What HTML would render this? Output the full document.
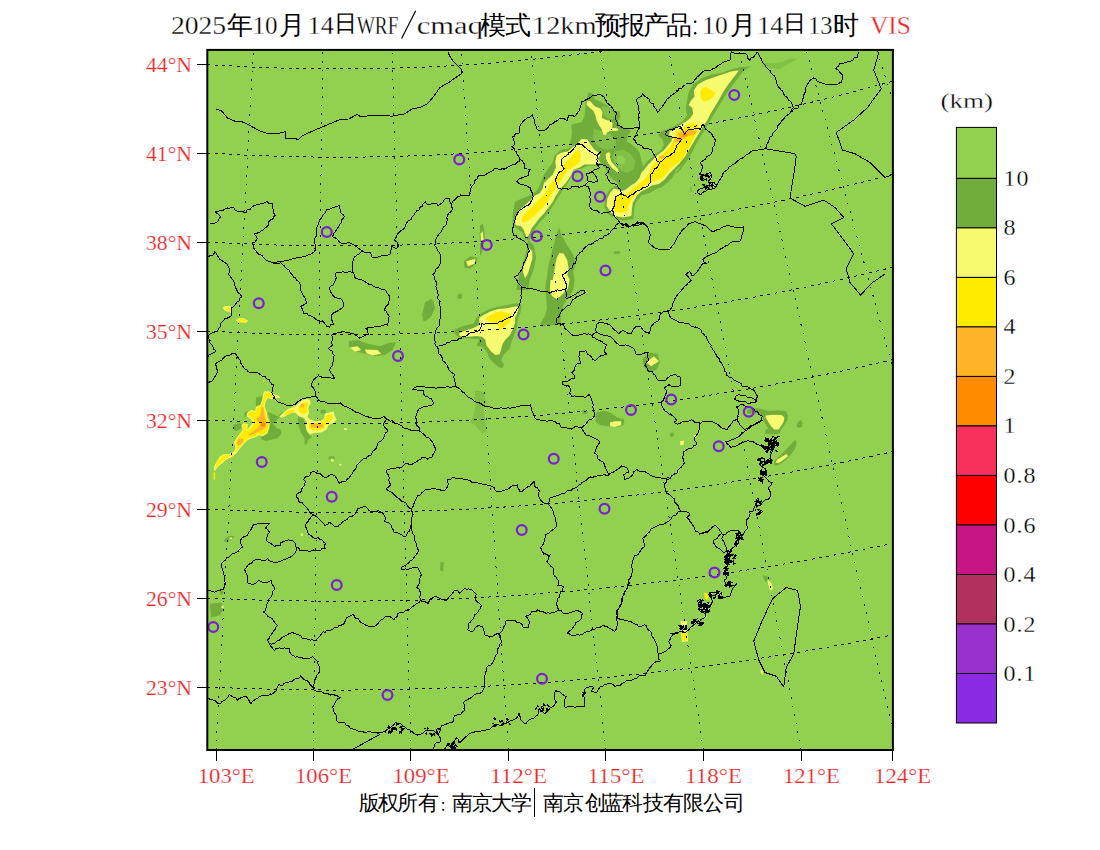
<!DOCTYPE html><html><head><meta charset="utf-8"><title>VIS</title><style>html,body{margin:0;padding:0;background:#fff}svg{display:block}text{font-family:"Liberation Serif",serif}</style></head><body>
<svg width="1100" height="850" viewBox="0 0 1100 850">
<rect width="1100" height="850" fill="#fff"/>
<defs><clipPath id="fc"><rect x="207.3" y="49.9" width="685.5999999999999" height="700.1"/></clipPath></defs>
<rect x="207.3" y="49.9" width="685.5999999999999" height="700.1" fill="#92D050"/>
<g clip-path="url(#fc)">
<path d="M588.7,92.4 593.1,93.8 594.5,98.9 600.4,101.8 606.2,104.7 610.5,108.4 614.9,111.3 619.3,111.3 620.7,116.4 617.8,120.7 620.7,126.5 625.1,128 630.9,130.9 628,135.3 626.5,141.1 630.9,144 636.7,148.4 639.6,152.7 641.1,158.5 642.5,164.4 645.5,170.2 646.9,176 641.1,180.4 636.7,184.7 630.9,187.6 625.1,189.1 620.7,188.4 616.4,181.8 612,178.9 607.6,173.1 604.7,167.3 601.8,164.4 600.4,161.5 600.4,155.6 594.5,149.8 590.2,144 587.3,139.6 581.5,138.9 577.1,144 572.7,145.5 569.8,144 571.3,138.2 572,132.4 571.3,125.1 575.6,123.6 581.5,122.2 584.4,116.4 585.1,109.1 585.8,101.8 587.3,96Z" fill="#70AD3A"/>
<path d="M593.8,128.7 601.8,130.9 610.5,133.8 614.9,138.2 616.4,144 613.5,148.4 607.6,149.8 601.8,148.4 596,144 593.1,138.2Z" fill="#82C046"/>
<path d="M601.8,106.2 607.6,106.9 613.5,111.3 616.4,116.4 613.5,119.3 607.6,118.5 604,114.9 602.5,110.5Z" fill="#82C046"/>
<path d="M614.9,151.3 623.6,149.8 630.9,154.2 635.3,161.5 633.8,168.7 628,173.1 622.2,171.6 617.8,167.3 613.5,161.5 612,155.6Z" fill="#82C046"/>
<path d="M617.1,156.4 622.2,155.6 625.1,159.3 624.4,163.6 620,164.4 617.1,161.5Z" fill="#92D050"/>
<path d="M587.3,100.4 590.9,101.8 594.5,106.2 600.4,108.4 602.5,112 601.8,117.8 606.2,120 610.5,120.7 612.7,123.6 612,128 614.9,128 617.8,128.7 618.5,130.2 614.9,130.9 610.5,130.9 606.9,132.4 605.5,135.3 603.3,134.5 601.8,129.5 598.9,125.1 596.7,120.7 595.3,114.9 593.1,110.5 589.5,107.6 586.5,104.7Z" fill="#F5FA6E"/>
<path d="M605.5,154.2 608.4,152 610.5,153.5 609.8,157.1 611.3,161.5 614.2,165.1 617.8,168.7 619.3,172.4 616.4,171.6 612,168 608.4,163.6 606.2,159.3Z" fill="#F5FA6E"/>
<path d="M581.5,137.5 587.3,138.2 591.6,144 596,149.8 601.1,152.7 601.8,157.1 600.4,163.6 596,165.8 587.3,165.8 581.5,168.7 573.1,170 570.2,178.7 565.8,186 561.5,191.8 557.1,199.1 552.7,206.4 548.4,212.2 544,218 539.6,222.4 535.3,228.2 532.4,234 529.5,239.8 525.1,239.8 522.2,232.5 516.4,228.2 512.7,223.8 512.7,215.1 514.9,202 520.7,199.1 528,196.2 533.8,193.3 538.2,188.9 541.1,181.6 544,174.4 552.4,162.9 554.5,155.6 561.1,149.8 568.4,148.4 572.7,145.5 577.1,142.5Z" fill="#70AD3A"/>
<path d="M581.5,138.9 587.3,139.6 590.2,144 594.5,149.8 598.9,152.7 600.4,155.6 597.5,158.5 600.4,162.2 596,164.4 590.2,164.4 584.4,164.4 580,167.3 573.1,170 571.6,174.4 568.7,178.7 565.8,183.1 561.5,187.5 558.5,191.8 555.6,196.2 552.7,202 548.4,207.8 544,213.6 539.6,218 535.3,223.8 531.6,228.2 529.5,234 526.5,238.4 525.8,235.5 523.6,229.6 520.7,226 515.6,225.3 514.9,220.9 517.1,215.1 520.7,209.3 525.1,204.9 530.2,200.5 533.8,196.2 539.6,193.3 542.5,188.9 544,183.1 548.4,178.7 552.7,174.4 556,167.3 555.3,161.5 556.7,155.6 561.1,152.7 568.4,151.3 572.7,146.9 577.1,144Z" fill="#F5FA6E"/>
<path d="M579.3,149.8 580.7,155.6 580,161.5 575.6,165.8 567.3,170 565.8,172.9 562.9,177.3 560,181.6 557.1,186 554.2,190.4 551.3,194.7 548.4,200.5 544,206.4 539.6,210.7 535.3,215.1 530.9,218.7 526.5,221.6 522.2,222.4 521.5,219.5 523.6,215.1 528,210.7 532.4,206.4 536.7,202 541.1,197.6 545.5,193.3 548.4,187.5 551.3,183.1 554.2,178.7 558.5,174.4 562.5,167.3 565.5,162.9 569.8,158.5 572.7,154.2 575.6,151.3Z" fill="#FFEB00"/>
<path d="M528,239.8 533.8,245.6 536,257.3 533.8,268.9 529.5,280.5 528,290 516.4,290 517.8,280.5 520.7,270.4 523.6,261.6 526.5,251.5Z" fill="#70AD3A"/>
<path d="M529.5,248.5 532.4,251.5 532.4,258.7 530.2,266 528,273.3 525.1,278.4 522.9,271.8 523.6,266 526.5,260.2 528,254.4Z" fill="#F5FA6E"/>
<path d="M559.3,227.5 561.5,235.5 567.3,245.6 573.1,254.4 576,263.1 573.1,271.8 574.5,280.5 573.1,290 545.5,290 546.9,277.6 548.4,266 551.3,254.4 554.2,242.7 557.1,232.5Z" fill="#70AD3A"/>
<path d="M559.3,252.9 563.6,253.6 567.3,260.2 568.7,268.9 567.3,274.7 570.2,280.5 568.7,290 549.8,290 552.7,280.5 554.2,271.8 555.6,263.1 557.1,257.3Z" fill="#F5FA6E"/>
<path d="M480,225.3 482.9,223.8 484.4,234 483.6,245.6 481.5,254.4 480,255.8Z" fill="#70AD3A"/>
<path d="M480,232.5 482.2,231.8 482.9,238.4 481.5,242.7 480,242.7Z" fill="#F5FA6E"/>
<path d="M751.3,66.5 739.6,67.3 730.9,69.5 720.7,73.1 712,74.5 701.8,78.2 693.1,84.7 688.7,92 687.3,99.3 685.8,108 687.3,115.3 682.9,121.1 675.6,125.5 668.4,129.1 661.1,131.3 658.2,135.6 662.5,139.3 664,144.4 661.1,150.2 655.3,154.5 648,160.4 642.2,167.6 639.3,173.5 636.4,180 635.6,182.5 629.8,186.2 625.5,188.4 621.1,188.4 615.3,185.5 609.5,189.8 605.1,197.1 604.4,207.3 608.7,214.5 615.3,218.9 624,220.4 633.5,218.9 634.2,208.7 635.6,202.9 641.5,195.6 650.2,192.7 654.5,189.8 661.8,186.9 667.6,182.5 672,178.2 676.4,169.5 682.2,165.1 669.8,180 672.7,176.4 675.6,173.5 678.5,172 682.9,166.2 687.3,160.4 691.6,153.1 696,144.4 700.4,137.1 704.7,129.8 709.1,122.5 713.5,115.3 717.8,108 722.2,100.7 726.5,93.5 730.9,87.6 735.3,81.8 739.6,76 744,70.2Z" fill="#70AD3A"/>
<path d="M738.9,70.2 730.9,71.6 722.2,74.5 713.5,77.5 704.7,80.4 697.5,84.7 693.8,90.5 694.5,96.4 690.9,100.7 688.7,105.1 692.4,108 693.1,113.8 690.2,118.2 685.8,121.8 681.5,124 675.6,128.4 669.8,131.3 669.1,135.6 672.7,137.1 671.3,141.5 667.6,145.8 664,150.2 658.2,154.5 653.8,158.9 648,164.7 643.6,170.5 641.5,172.4 639.3,178.2 635.6,182.5 629.8,186.2 625.5,189.8 621.1,191.3 618.2,189.8 613.8,188.4 610.2,192.7 607.3,198.5 606.5,205.8 610.2,211.6 615.3,216 622.5,217.5 631.3,216 632,208.7 632.7,202.9 637.1,195.6 641.5,191.3 647.3,188.4 651.6,185.5 658.9,184 664.7,179.6 669.1,173.8 674.9,168 679.3,163.6 685.1,156.4 689.5,149.1 693.8,141.8 698.2,134.5 697.5,135.6 701.8,128.4 706.9,121.1 710.5,113.8 714.9,106.5 719.3,99.3 723.6,91.3 728,84.7 732.4,78.9 736,74.5Z" fill="#F5FA6E"/>
<path d="M701.8,88.4 706.2,86.9 710.5,89.8 715.6,92.7 713.5,96.4 709.8,99.3 706.2,101.5 702.5,100.7 700.4,96.4 700.1,92Z" fill="#FFEB00"/>
<path d="M693.1,122.5 697.5,124 698.9,127.6 696,134.2 693.1,138.5 690.2,145.8 685.8,153.1 681.5,160.4 670.5,168 666.2,173.8 661.8,178.2 654.5,181.1 647.3,184 641.5,188.4 635.6,194.2 631.3,200 628.4,205.8 626.9,210.9 621.1,213.1 615.3,211.6 612.4,207.3 613.1,201.5 616,195.6 619.6,193.5 624,194.9 628.4,192.7 632.7,188.4 638.5,184 644.4,179.6 648.7,173.8 651.6,166.5 656,160.7 660.4,156.4 664.7,152 669.1,147.6 662.5,153.1 668.4,148.7 671.3,144.4 674.2,139.3 675.6,132.7 681.5,128.4 687.3,124Z" fill="#FFEB00"/>
<path d="M678.5,132.7 682.9,131.3 687.3,129.8 693.1,130.5 697.5,131.3 694.5,134.2 690.2,135.6 685.8,137.1 682.9,139.3 679.3,141.5 674.9,142.2 674.2,139.3 678.5,137.1Z" fill="#FFB428"/>
<path d="M658.9,156 664,155.7 664,158.2 658.9,158.2Z" fill="#FFB428"/>
<path d="M682.9,133.5 687.3,133.2 687.3,135.9 682.9,136.4Z" fill="#FF8C00"/>
<path d="M454.5,329.5 461.8,326.5 473.5,323.6 476.4,317.8 482.2,312.7 489.5,309.1 496.7,306.9 505.5,305.5 515.6,303.3 521.5,304.7 520.7,312 517.8,319.3 517.1,326.5 514.2,335.3 511.3,342.5 509.8,348.4 504,354.2 501.1,360 504,364.4 502.5,368 498.9,367.3 493.8,362.9 489.5,358.5 486.5,351.3 482.2,346.9 476.4,345.5 479.3,339.6 469.1,338.2 460.4,338.2 454.5,333.8Z" fill="#70AD3A"/>
<path d="M459.6,333.1 466.2,330.2 473.5,328 479.3,325.1 479.3,317.8 483.6,314.9 490.9,311.3 498.2,309.1 505.5,308.4 512.7,306.9 517.1,306.2 518.5,309.1 517.1,313.5 514.9,317.8 514.9,323.6 512.7,329.5 509.8,335.3 505.5,339.6 502.5,344 501.1,349.8 499.6,354.2 495.3,354.9 490.9,351.3 486.5,345.5 485.1,339.6 482.2,336.7 476.4,336 469.1,336.7 461.8,336.7 458.9,335.3Z" fill="#F5FA6E"/>
<path d="M485.1,319.3 489.5,315.6 495.3,312.7 501.1,311.3 506.9,312.7 511.3,314.9 509.8,319.3 509.8,322.2 506.2,325.1 502.5,328.7 498.9,329.5 498.2,325.1 495.3,322.9 489.5,321.5Z" fill="#FFEB00"/>
<path d="M546.2,280 573.8,280 572.4,291.6 568,297.5 563.6,304.7 560.7,313.5 560.7,325.1 550.5,325.1 541.8,326.5 540.4,323.6 544.7,316.4 546.9,309.1 546.2,297.5 545.5,287.3Z" fill="#70AD3A"/>
<path d="M550.5,280 569.5,280 568,288.7 565.1,291.6 560.7,296 556.4,298.9 552,296 549.8,290.2Z" fill="#F5FA6E"/>
<path d="M458.9,293.8 461.8,293.8 461.8,298.2 458.9,298.2Z" fill="#70AD3A"/>
<path d="M475.6,390.5 482.2,392 485.1,400 474.9,400Z" fill="#70AD3A"/>
<path d="M463.8,261.2 470,256.2 477.5,257.5 476.2,263.8 470,268.8 464.5,267.5Z" fill="#70AD3A"/>
<path d="M466.2,261.2 475.5,258.8 474.5,263.8 468,266.2Z" fill="#F5FA6E"/>
<path d="M479.5,232.5 483,225 484.5,232.5 484.5,242.5 480,242.5Z" fill="#70AD3A"/>
<path d="M480.5,233.8 483,231.2 483.5,240 481,240.5Z" fill="#F5FA6E"/>
<path d="M425,302.5 431.2,298.8 435,307.5 431.2,316.2 423.8,321.2 422,315Z" fill="#70AD3A"/>
<path d="M458.8,294.5 462,294.5 462,298 458.8,298Z" fill="#70AD3A"/>
<path d="M642.5,358.8 650,352.5 657.5,353.8 660,362.5 656.2,370 648.8,372.5 643.8,366.2Z" fill="#70AD3A"/>
<path d="M646.2,362.5 653.8,356.2 658.8,361.2 651.2,366.2Z" fill="#F5FA6E"/>
<path d="M613.8,251.2 620,251.2 620,253.8 613.8,253.8Z" fill="#70AD3A"/>
<path d="M267.5,412 273.4,414.2 277.7,416.4 280.6,413.5 283.5,412 277.7,419.3 273.4,423.6 276.3,428 280.6,429.5 281.4,433.8 277.7,438.2 271.9,439.6 266.1,441.1 261.7,439.6 260.3,437.5 267.5,433.8 269.7,428 270.5,422.2 269,416.4Z" fill="#70AD3A"/>
<path d="M255.9,397.5 262.5,396 261.7,404.7 255.9,406.2Z" fill="#70AD3A"/>
<path d="M244.3,412.7 247.9,411.3 248.6,416.4 244.3,417.1Z" fill="#70AD3A"/>
<path d="M233.4,424.4 239.9,422.9 242.5,425.1 240.6,428.7 235.8,431.2 233.4,429.2Z" fill="#70AD3A"/>
<path d="M264.6,390.9 269,391.6 272.6,393.8 277.7,395.3 280.6,397.5 274.8,398.2 270.5,398.9 268.3,397.5 265.4,401.8 264.6,406.9 266.8,412 267.5,417.8 269.7,422.2 269,428 267.5,433.1 263.2,436 258.8,435.3 254.5,437.5 248.6,439.6 244.3,443.3 239.9,448.4 237,452.7 232.6,456.4 226.8,459.3 222.5,462.9 218.1,466.5 214.5,471.6 213.7,467.3 215.9,462.9 219.5,457.1 223.2,454.2 228.3,454.2 233.4,452 235.5,448.4 234.1,442.5 236.3,438.2 239.9,433.8 242.8,429.5 241.4,425.1 244.3,422.9 247.9,424.4 247.2,429.5 250.1,426.5 253,422.2 250.1,418.5 246.5,416.4 247.2,412.7 251.5,409.8 255.2,411.3 255.9,406.9 260.3,404.7 262.5,398.9 263.2,393.8Z" fill="#F5FA6E"/>
<path d="M265.4,391.9 269,392.8 271.9,394.5 276.3,396.3 270.5,397.7 267.8,396.7 264.3,401.8 263.5,406.9 265.8,412.3 266.7,418.1 268.7,422.5 268,427.7 266.7,432.4 262.9,435 258.5,434.1 254.2,436.4 248.3,438.5 243.5,442.3 239.3,447.2 236.4,451.6 232.3,455.3 226.8,458.3 222.2,461.5 218.4,465.1 215.2,469 215.5,465.1 217.4,461.5 220.7,457.8 223.9,455.3 228.6,455.3 234.1,453 236.7,448.7 235.3,442.8 237.3,438.8 240.8,434.5 243.8,429.7 242.5,425.8 244.6,424.1 246.9,425.4 246.3,430.9 250.8,427.7 254.2,422.2 251,417.5 247.8,415.8 248.2,413.5 251.5,411 255.9,412.3 256.9,407.6 261.1,405.5 263.2,399.6Z" fill="#FFEB00"/>
<path d="M261.4,406.9 263.5,407.6 263.9,413.5 265.4,418.1 266.8,422.9 265.5,427.4 262.9,429.5 258.8,431.5 254.5,433.5 249.4,435.9 248.3,434.4 253.7,431.2 258.1,427.4 260.6,423.6 257.1,421 256.2,418.1 259.7,416.4 260.9,410.8Z" fill="#FFB428"/>
<path d="M237.7,439.6 242.8,438.2 243.5,441.8 240.6,444.7 237,445.5Z" fill="#FFB428"/>
<path d="M261,422.2 265.4,422.9 264.6,426.5 261,426.5Z" fill="#FF8C00"/>
<path d="M213.7,471.9 215.2,473.1 214.9,480.4 213.4,478.9Z" fill="#FFEB00"/>
<path d="M298.1,416.4 303.9,419.3 305.4,425.1 306.8,430.9 309.7,435.3 312.6,436.7 308.3,439.6 306.8,444 304.6,444.7 304.6,438.2 301,432.4 298.8,426.5 298.1,420.7Z" fill="#70AD3A"/>
<path d="M320.6,409.8 325.7,409.8 325.7,413.5 320.6,413.5Z" fill="#70AD3A"/>
<path d="M279.2,416.4 283.5,412.7 287.9,409.1 293.7,406.9 298.1,404 301,401.1 305.4,398.9 309.7,399.6 310.5,403.3 308.3,406.9 309,412.7 307.5,416.4 309.7,419.3 315.5,421.5 321.4,420.7 324.3,418.5 325,413.5 328.6,412.7 333.7,411.3 334.5,415.6 336.6,419.3 334.5,422.2 328.6,425.1 326.5,429.5 321.4,432.4 314.1,433.1 309.7,434.5 306.8,430.9 305.4,425.1 306.8,422.2 303.9,417.8 299.5,416.4 295.2,412.7 290.8,412.7 286.5,415.6 282.1,417.8Z" fill="#F5FA6E"/>
<path d="M298.8,406.9 302.5,403.3 306.8,401.8 309,404 306.8,407.6 307.5,412.7 303.9,414.2 300.3,412.7 298.1,409.8Z" fill="#FFEB00"/>
<path d="M309,422.9 315.5,422.9 321.4,422.2 325,419.3 326.5,414.9 331.5,414.2 333,417.8 330.1,422.2 325.7,425.1 324.3,428.7 318.5,430.2 312.6,430.2 309,428Z" fill="#FFEB00"/>
<path d="M286.5,411.3 292.3,409.1 295.2,411.3 289.4,414.2 284.3,415.6Z" fill="#FFEB00"/>
<path d="M310.5,423.6 317,423.6 323.5,424.4 323.5,427.3 317,428 311.2,427.3Z" fill="#FFB428"/>
<path d="M300.3,404 303.9,404 303.9,407.6 300.3,407.6Z" fill="#FFB428"/>
<path d="M328.6,456.4 334.5,456.4 334.7,459.7 328.6,459.7Z" fill="#70AD3A"/>
<path d="M330.8,458.5 333.7,459.3 333.7,461.5 330.8,461.5Z" fill="#F5FA6E"/>
<path d="M339.5,463.6 341.7,464.4 341,465.8 339.1,465.2Z" fill="#F5FA6E"/>
<path d="M343.9,428 346.8,428.3 346.8,430.2 344.2,429.9Z" fill="#F5FA6E"/>
<path d="M263.2,380 264.3,380 264.3,381.7 263.2,381.7Z" fill="#FFEB00"/>
<path d="M755.3,408.2 761.1,408.9 768.4,411.1 777.1,410.4 785.8,411.1 788,415.5 787.3,420.5 784.4,424.9 781.5,429.3 779.3,433.6 772.7,434.4 764.7,433.6 765.5,430 768.4,428.5 765.5,424.2 763.3,419.1 759.6,414 754.5,413.3 748,414 746.5,410.4 750.9,408.2Z" fill="#70AD3A"/>
<path d="M765.5,415.5 772.7,414.7 781.5,415 784.4,417.6 783.6,422 780.7,426.4 778.5,429.6 774.2,429.6 771.3,426.4 768.4,422 766.2,418.4Z" fill="#F5FA6E"/>
<path d="M800.4,419.8 802.5,422.7 801.8,427.1 798.2,428.1 796,425.6 798.2,422Z" fill="#70AD3A"/>
<path d="M796,440.2 796.7,443.8 794.5,449.6 790.2,455.5 784.4,461.3 778.5,464.9 774.2,465.6 774.2,461.3 778.5,456.9 784.4,451.1 790.2,445.3 793.8,440.9Z" fill="#70AD3A"/>
<path d="M786.5,454 788,456.2 784.4,459.1 779.3,462.7 775.6,462.7 777.1,459.8 781.5,456.9Z" fill="#F5FA6E"/>
<path d="M680,441.2 683.8,440.5 683.8,444.5 680.5,445.5Z" fill="#F5FA6E"/>
<path d="M693.8,435 696.2,435 696.2,437.5 693.8,437.5Z" fill="#F5FA6E"/>
<path d="M670,433 673.8,432.5 673.8,436.2 670,436.8Z" fill="#70AD3A"/>
<path d="M620,418.8 623.8,418.8 624.5,422.5 621.2,424.2 620,423.8Z" fill="#70AD3A"/>
<path d="M476.2,391.2 483.8,392.5 486.2,402.5 482.5,407.5 485,417.5 486.2,431.2 482.5,433.8 475,425 470,422.5 473.8,415 475.5,405 474.5,397.5Z" fill="#82C046"/>
<path d="M596.2,412.5 603.8,410.8 610,412.5 617.5,417.5 623.8,420 623.8,425 617.5,427 607.5,426.2 600,425 595.5,421.2Z" fill="#70AD3A"/>
<path d="M610,422.5 615,421.2 621.2,421.2 621.2,425 615,427 610,426.2Z" fill="#F5FA6E"/>
<path d="M582.5,410 587.5,410 587.5,413.8 582.5,413.8Z" fill="#70AD3A"/>
<path d="M440.5,562.5 443.8,562 443.2,571.2 440,570.5Z" fill="#70AD3A"/>
<path d="M222.5,307.6 225.9,305.9 230.5,306.2 232.6,307.8 231.2,313 228.8,311.6 225.9,310.9 223.8,309.5Z" fill="#F5FA6E"/>
<path d="M224.5,308.2 228,307.4 231.8,308.2 231,312.3 228.8,310.8 226,310Z" fill="#FFEB00"/>
<path d="M235.8,320.2 239,318.3 243.6,318.3 248,320.5 246.5,322.8 241.9,322.4 238.2,322Z" fill="#F5FA6E"/>
<path d="M237,320.3 239.3,319 243.3,319 246.8,320.6 245.8,322 241.9,321.8 238.5,321.4Z" fill="#FFEB00"/>
<path d="M348.8,341.2 357.5,340 367.5,343.8 380,346.2 390,342.5 396.2,342.5 392.5,350 385,355 375,356.2 365,353.8 355,351.2 348.8,346.2Z" fill="#70AD3A"/>
<path d="M350,347.5 357.5,346.2 361.2,350 355,351.8Z" fill="#F5FA6E"/>
<path d="M365,349.5 377.5,350 381.2,353.8 372.5,355.5 366.2,353Z" fill="#F5FA6E"/>
<path d="M422.5,320 426.2,312.5 430,302.5 433.8,300 433.8,310 430,317.5 425,321.2Z" fill="#70AD3A"/>
<path d="M457.5,295 461.2,293.8 461.2,298.8 457.5,298.8Z" fill="#70AD3A"/>
<path d="M210,603.8 221.2,602.5 223.8,608.8 220,615 211.2,617.5Z" fill="#70AD3A"/>
<path d="M221.5,605.8 223.5,605.8 223.5,608.2 221.5,608.2Z" fill="#F5FA6E"/>
<path d="M219.5,590 223.8,591.2 222.5,595 219.5,593.8Z" fill="#70AD3A"/>
<path d="M680,621.2 687.5,621.2 686.2,626.2 681.2,625Z" fill="#F5FA6E"/>
<path d="M680.8,630 687,630 688.2,641.2 681.8,642Z" fill="#F5FA6E"/>
<path d="M681.2,631.2 686.2,631.2 687.5,640 682.5,641.2Z" fill="#FFEB00"/>
<path d="M703.8,592.5 707.5,593.8 708.8,600 705,598.8Z" fill="#FFEB00"/>
<path d="M701.2,606.2 707.5,607.5 706.2,610.5Z" fill="#FFEB00"/>
<path d="M762.5,575 767.5,576.2 768.8,582.5 765,581.2Z" fill="#70AD3A"/>
<path d="M767,579.5 771.2,582.5 773,588.8 770,590.5Z" fill="#F5FA6E"/>
<path d="M760.5,669.5 763,671.2 762.5,675 760.8,672.5Z" fill="#F5FA6E"/>
<path d="M761.2,66.2 770,68 780,69.2 785,65.5 792.5,61.8 797.5,58.8 790,58.2 782.5,62 772.5,63.5 763.8,63Z" fill="#82C046"/>
<path d="M223.5,541 227,537 232,535.5 234.5,536.5 231,540 226,542.5Z" fill="#70AD3A"/>
<path d="M229.5,537.5 232,537.5 232,539.2 229.5,539.2Z" fill="#F5FA6E"/>
<path d="M300.8,533.5 302.8,533.5 302.8,535.8 300.8,535.8Z" fill="#F5FA6E"/>
<path d="M697.5,178.2 703.5,178.2 703.5,181 697.5,181Z" fill="#70AD3A"/>
<path d="M699,179 702.5,179 702.5,180.2 699,180.2Z" fill="#F5FA6E"/>
<path d="M690.3,187 691.6,187 691.6,192.3 690.3,192.3Z" fill="#70AD3A"/>
<g fill="none" stroke="#000" stroke-width="1" stroke-dasharray="1.7 7" shape-rendering="crispEdges">
<path stroke-dasharray="3 4.4" d="M200,64.0 A1645.1,1389.9 0 0 0 900,-14.4"/>
<path stroke-dasharray="3 4.4" d="M200,152.5 A1749.5,1478.1 0 0 0 900,79.1"/>
<path stroke-dasharray="3 4.4" d="M200,241.5 A1854.6,1566.8 0 0 0 900,172.5"/>
<path stroke-dasharray="3 4.4" d="M200,330.6 A1959.7,1655.6 0 0 0 900,265.4"/>
<path stroke-dasharray="3 4.4" d="M200,419.6 A2064.8,1744.4 0 0 0 900,357.9"/>
<path stroke-dasharray="3 4.4" d="M200,508.6 A2169.9,1833.3 0 0 0 900,450.0"/>
<path stroke-dasharray="3 4.4" d="M200,597.6 A2275.1,1922.1 0 0 0 900,541.8"/>
<path stroke-dasharray="3 4.4" d="M200,686.6 A2380.3,2011.0 0 0 0 900,633.4"/>
<path d="M216,750.0 L253.3,49.9"/>
<path d="M313.3,750.0 L322.7,49.9"/>
<path d="M410.8,750.0 L392.0,49.9"/>
<path d="M508.3,750.0 L461.3,49.9"/>
<path d="M605.8,750.0 L530.7,49.9"/>
<path d="M703.3,750.0 L600.2,49.9"/>
<path d="M801.2,750.0 L668.7,49.9"/>
<path d="M897.1,750.0 L739,49.9"/>
<path d="M996.6,750.0 L806.2,49.9"/>
<path d="M1094,750.0 L877,49.9"/>
</g>
<g fill="none" stroke="#000" stroke-width="1" stroke-linejoin="round" shape-rendering="crispEdges">
<path d="M216.25,109.5 221.25,110.5 227.5,118 235,121.25 242.5,122 250,125.5 258.75,130.5 266.25,133 280,133 285.5,131.75 285.5,138.25 296.25,138.75 298,140.25 302.5,135.5 315,130 330,123.75 340,119.5 348.75,119 357,114.5 360,116.25 375,115.75 385,115.25 391.25,116.25 405,113.75 412.5,108.75 420,107.5 427.5,103.75 433.75,96.25 440,87.5 448.75,82.5 457.5,76.25 461.25,73.75 462,70 455,63 451.25,58.75 448,52.5"/>
<path d="M209.5,223 212.3,223.2 214.5,223.1 216.5,222.3 218.3,220.7 219.6,217.9 220.8,217.5 219.6,215.7 218.4,214.6 216,212.6 215.3,212 217.1,211.5 220.6,210.4 222.6,210.7 224.9,209.1 227.6,208 229.5,208.1 231.1,207.7 233.5,207.6 235.3,210.1 236.8,211 239.9,211.8 242.9,211.5 244.4,213 246.2,212.2 247.1,209.7 250,209.4 252,206.8 254.3,205.5 256.7,204.7 259.5,204.2 260.9,203 263.8,203.1 266.1,202.1 267.4,201.7 269.6,203.9 272.2,203 272.5,207.2 273.4,210.5 273.6,212.8 275.4,215.4 274,216.3 272.8,219.1 270.7,219.7 268.3,222.1 268.5,224.8 267,226.8 265.3,227.7 263.4,229.6 261.3,230.8 259.6,232.2 256.8,233.3 254.3,234.1 256.2,235.9 257.1,238.5 256,240.6 254.3,242.6 252,243 254,246.7 253.7,248 255.5,250.5 256.6,251.9 257.9,253.8 260.7,254.8 262.3,255.9 263.3,257.5 265.3,259.6 267.7,260.8 270.1,261.7 272.1,262.6 274.9,262.4 276.7,262.1 279.7,261.5 283,261.7 285,260.4 286.9,260.4 289.9,259.9 292.1,258.9 294.4,258.4 297.6,257.7 298.7,257.7 300.7,257.6 303.3,256 305.6,256.2 308.5,254.8 310.7,254.3 313.7,252.3 315,250"/>
<path d="M315,251 315,248.6 315.4,246.5 314.9,243.6 314.7,242.2 314.9,239.3 315.1,237.5 316.5,235.9 316.9,232.5 316.1,231.1 316.3,228.3 317.9,225.7 318.3,223.6 318.8,222.9 319.8,219.6 321.9,218.7 322.1,216.1 323.2,214.7 324.9,212.9 326.7,209.9 327.8,210 331.3,208.2 333.4,207.4 334.7,207.2 336.9,206.4 339.9,205.1 339.7,208 340.8,210.6 340.5,212.9 343.7,215 344.2,216.6 343.2,218.5 341.7,219.6 341.6,222.4 339.2,225.2 339,225.8 337.5,228.6 336.2,230.4 334.2,232.6 333.9,233.9 332.3,236.9 335.1,237.5 336.8,239.1 338.2,240.2 339.8,242.5 341.7,243.5 345.4,243.8 347.5,242.9 349.8,243 352.5,244.3 354.6,245.5 357.2,247.3 358.6,248.2 360,249.3 362.5,251"/>
<path d="M362.5,251.2 364.9,252.5 367.7,252.4 370,252 371.8,255.3 372,257.3 375.3,257.1 378,257.1 379.8,256.3 382.9,255.3 384.2,255 388.1,255 389.7,254.4 390,253.6 390.5,251.4 392,248 391.7,246.9 391.1,245.8 393,247 396.5,248.5 398.7,245.4 396.8,242 394.4,240 396.2,237.1 396.1,236.5 397.6,233.8 399.8,231.5 401.6,230.2 404.1,228.7 404.8,227.4 405.4,225.1 406.4,223.3 408.3,220.4 411.2,219.6 411.9,217.3 414.2,214.7 415.4,212.7 416.8,210.5 419.4,209.9 420,207.2 422.2,206.3 422.9,203.9 425.3,201.7 427.8,205.1 429.2,204.4 431.1,204 434,203.3 436.4,203.2 437.9,205.4 441.3,203.6 442.9,202.3 443.6,200.1 446.4,198 447,198 449.6,198.9 450.1,202.4 451.6,204.4 452.4,201.7 454.8,199.6 455.7,198.8 458.2,196.3 459.8,196.5 460.8,194.9 463.4,195.6 466.9,195.7 469.3,195.4 469.4,194 470.3,191.2 470.2,189.3 471.4,187.1 472.3,185.5 473.9,184.1 474.7,180.5 477,179 478.1,176.2 480.2,175.4 483,175.7 484.9,175.2 487.5,173.1 489.8,172.2 493.2,170.6 494.3,168.4 496.8,168.7 500.2,169.9 502.2,168.5 504.1,169.2 506.9,167.8 509.1,166.1 510,166.2 513.2,164.2 515.4,164.1 517.5,162 519.1,161.4 520,158.8"/>
<path d="M451.2,203.8 451.8,206.9 452.6,209.4 451,211.7 448.9,213.2 447.5,215.1 446.9,218 447.4,220.3 446.7,221.7 446.7,224.7 443.9,226.6 442.6,228.5 441.2,231.9 439.7,233.2 437.7,236 436.6,237.6 435.4,240.7 435.7,243.1 434.6,245.2 435.8,246.7 437.2,249.2 437.5,251"/>
<path d="M520,158.8 518.7,156.2 517.2,155.3 516.7,151.7 515,150.9 514.4,148.8 511.9,146.8 514.4,144.7 514.6,143.3 513.9,140.5 512.4,136.7 514,136.5 515.8,133.1 517.4,133.8 520,132.3 519.4,129.8 519.9,127.3 520.2,125.2 522.2,122.4 524.5,120.1 525.7,119.3 528.1,117.2 530,117.1 532.3,114.9 533.1,117.1 534.7,121 534.3,121.8 535.4,125 535.9,126.1 536.9,128.6 537.4,129.9 539.9,130.5 541.9,130.4 543.9,130.3 545.7,129.8 548.6,127 550.1,124.3 552.5,124 554.8,121.7 557.1,120.7 560.2,118.1 561.7,118.5 564.6,119 567,120.6 567.7,118 569.2,115 573,115.7 574.4,116.6 576.9,113.8 577.7,112.7 579.2,110.4 579.9,108 581.3,104.6 581,102 584,101.1 586.2,99.5 588.9,98.5 589.9,97.8 592.4,95.6 595.5,95.2 597.9,94.9 600,94.6 602.1,95.7 604.5,97.4 605.5,100.2 606.5,101.1 606.7,102.8 608.7,104.2 611.1,106.3 612.4,108.2 614.3,111.3 616.3,112.5 616.5,113.9 615.3,117 615.1,118.7 616.2,120.1 617.8,123.3 618,125.5 620.6,126.3 623.3,128.2 624.4,128.6 627.2,128.7 630,128.6 631,128.4 633.4,128.2 635.9,127.3 640.1,128.1 639.2,125.8 639.4,121.8 638.3,119.3 639.1,117.8 638.1,114.5 639.8,112.8 638.8,110.5 638.7,106.9 638,104.8 637.4,103.6 636.9,101.3 636.7,99.2 639.2,97.3 641.2,96.7 642.5,93.8 644.2,95.9 646.8,97.4 649.5,99.5 649.2,101 650.6,102.8 653.2,103.8 653.7,106.1 655.8,108.7 656.8,110.3 657.4,112.5 659.6,110.2 659.2,109.6 661.8,107.5 663.2,105.2 664.2,103.7 666.3,100.6 666.9,99 669.7,97.3 671,95.4 672.6,94.7 675.5,92.4 677.5,91.5 679,88.6 681.9,88.2 683.1,86.4 685,85"/>
<path d="M520,158.8 522.5,161.1 523.9,163.2 524.6,165.1 524.1,167.5 525.2,168.8 527.4,169 530.7,169.2 528.6,172 528.2,175.7 524.8,176.5 523.6,177.3 522,177.8 519,178.9 516.7,181.4 518.9,183.3 520.9,184.3 523.1,184.8 526.3,185.4 527.1,186.3 530.6,188.1 530.3,189.1 531.7,191.7 532.7,194.4 533.2,196.8 532.3,199.3 531.3,200.8 530.2,203.5 528.3,205.2 526.1,205.8 524.4,207.1 520.6,209.8 519.1,210.5 517.4,213.5 516.7,215.2 515.5,216.9 515.3,219.4 514.5,221.2 514,223.4 513.4,226.4 513.2,227.1 512.1,229.6 512.8,232.1 513.5,235 516.2,235.6 517.1,237.9 519.5,238.4 522.4,240.4 524.1,241.2 525.5,242.3 527.4,245 527.3,247.1 528.1,248.2 529.5,251"/>
<path d="M555,180 556.3,178.3 557.2,175.4 559.5,171.7 561.5,171.2 564.4,168.9 562.3,166 561.3,164.2 561,160.8 562.3,158.8 564,157.2 565.8,156 568.4,154.1 568.9,152.7 570.5,152.1 572.4,149.9 574.1,148.2 576.1,144.9 578.9,144.7 581.5,144.4 583.3,145.5 584.8,147.6 586.4,148.1 588,150 590.3,151.7 592.5,152.4 594.4,154.4 596.9,155.4 598.1,154.2 600.8,151.8 598.6,153.8 597.4,156.5 596.9,159.4 597.2,161.6 596.4,164.2 598.2,165.5 599.2,167.7 597.8,168.8 594.4,169.8 592.3,171.5 590.3,172.6 588.8,173.2 586.4,173.3 587.4,177.1 587.6,179.1 588.3,181.8 586.4,183.5 585.5,184.8 581.7,186.5 579.4,187.4 577,186.4 575.3,186.2 571.9,186.7 570.7,188.8 567.8,189.2 565.8,188.1 561.8,189.1 560.5,188.9 558,188 556.8,184.7 556.5,182.8 555,180"/>
<path d="M597,163.8 599.1,164.1 601.6,164.6 605.7,165.6 606.7,167.2 608.9,167.8 609.3,169.5 608.3,172.2 605.7,174.2 607,176.2 607.5,178.1 609.5,181.4 610.6,182.8 613.7,183.6 616.1,184.2 617.4,185.5 618.4,187.8 620.7,189.7 621.2,193.4 618.6,195.6 616.5,196.3 615.3,197.2 615.1,200.4 614.5,201.7 614.2,205.6 613.8,207.4 612.2,209.5 610.4,211.8 606.8,212.5 604.8,212.1 603.2,213.1 600.3,213 598.9,212.3 596.9,210.6 594.5,210.3 591.8,209.8 590.8,208.3 589.3,205.3 590.3,201.8 590.1,199.3 589.9,196.7 590.5,194.9 590.5,193.3 589.5,190 588.4,186.7 586.6,186.6 585,185"/>
<path d="M586.2,173.8 588.6,173.9 590,172.2 592.4,171.9 594.3,174.1 595.7,175.6 596.6,178.1 597.8,181.4 593.1,182.5 591.7,181.7 588.8,181.2"/>
<path d="M612.5,210 613.1,211.7 613.6,214.9 615.5,217.4 616.7,218.6 618.3,220.5 620,222.5"/>
<path d="M620,222.5 618.1,223.6 616.2,225 614.6,228.1 613.4,228.7 611.1,230.7 609.8,233.2 608.1,234.4 607,235 604.1,235.7 602.7,238.2 600.1,238.1 597.7,240.1 594.5,241.6 593.3,243.1 590.8,244.4 588.2,245 585.4,247 583.9,248.5 582.5,251"/>
<path d="M685.5,83.8 688.5,83.8 690.5,83.3 693.1,82.8 694.3,80 696.5,78.4 697.1,77.1 699.3,75.2 700.5,74.1 701.7,72.5 704.2,70.7 707,70.5 709.5,70.8 710.7,70.3 713.1,68.6 716.1,67.5 717.9,65.5 720.3,64.7 722.2,62.7 725.6,61.3 727.8,60.8 730,59.9 730.5,57.2 730.5,55 731.2,51.8 733,52.3 735,53.7 736.7,53.8 739.9,53.6 741.8,53.2 745.7,53.5 747.4,55.5 747.8,58.3 749.8,60.3 751.3,57.7 753.4,57.3 754.6,55.7 757.5,52"/>
<path d="M639.5,127.5 638.5,129.6 636.7,132.4 637.1,134.8 634.9,136.7 633.3,139.1 635.1,140.6 636.9,144.2 639.1,144.6 641.9,146 643.5,148 645.8,149 648,148.8 651.5,149.8 652.4,151.7 654.6,155.5 655.6,156.5 656.4,159.1 656.8,160.7 660,162.5"/>
<path d="M621.2,193.8 622.7,194.7 626.2,196.2 627.9,197.9 629.2,196.1 631.5,194.7 633.5,194 634.2,193.2 636.3,191.4 639,190.3 640.7,189.7 642.5,188 644.2,187.7 648.2,185.8 649.3,183.6 650.5,182.2 650.8,179.1 650.4,177.9 650.6,174.5 652.5,173.2 653.6,170.4 654.5,168.9 656.8,168 658.9,164.3 659.5,162.5 662.2,161 663.5,159.8 666.3,156.7 668.5,156.1 670.5,155.8 671.6,153.1 674,152.9 674.7,150.8 675.3,149.4 676.4,147.3 677.2,144.7 679.8,141.9 681.8,139.2 678.7,138.7 676.7,138 675.2,137.2 672.6,137.2 670,136.2 668.1,136.1 665.8,134.7 666.2,131.2 669.8,129.7 673.5,128.9 675.6,127.8 679.7,126.5 680.7,127 682.9,131 684.9,134.7 686.2,131.3 689.1,129.5 692.1,129.8 696.6,128.1 700.2,129.2 702.2,125.6 704.4,125.5 704.6,127.6 706.1,129.5 708.5,131.4 711.5,133.2 712.2,135 714,138.3 715.8,140.7 714.9,142 715,145 713.5,146.4 712.4,148.3 712.9,151.1 711.8,152.3 710.5,154.8 708.2,155.8 706.8,156.4 705.3,159.2 703.3,160.4 700.8,162.2 701.1,164.9 702.5,166.1 701.9,169.5 701.4,170.9 699.6,174.3 702,174.4 705.4,175.8 706.3,173.8 708.4,173.1 710.5,172.5 711.8,176 711.4,177.6 709.9,179.7 708.3,180.8 708.9,182.4 712.3,182.4 713.7,182.2 715.7,184.6 716.6,185.7 714.7,188.2 712,188.9 710,189.7 707.2,190 705.6,191.1 704,191.7 702,193.1 700.6,195 698,192.8 697.7,190.5 700.2,188.8 702.8,188.3 705.8,186.1 707.6,185.5 710.1,185.9 712.1,185.3 713.4,186 716.2,186.2"/>
<path d="M716.2,186.2 717.2,184.2 718.3,182.5 719.7,180.1 721.3,177.8 722.2,176.1 722.6,173.9 724.3,171.9 726.4,170.3 728.1,169.2 728.5,167.2 730.6,166.6 731.8,165.1 733.6,164.1 735.8,162.8 736.5,161.6 738.4,160.4 740,159.2 742.7,157.9 744.6,156.6 746.4,154.6 748.9,153.7 749.8,152.4 752.4,150.9 755.1,150.4 757.2,150.5 758.4,149.8 760.8,149.1 763.2,149.3 765,148.8"/>
<path d="M757.5,52 758.3,53.8 759.3,56 760.9,58.1 761.4,59.8 762.7,62.5 763.7,63.8 765.5,65.8 766.3,67.6 768.1,69.1 770.6,71 771.2,73.3 773.7,75.4 774.9,76.3 775.8,78.9 776.4,81.7 776.5,83.5 778,86 779.6,88.1 781.1,89.9 782.4,91 783.6,92.6 784.3,95.8 786.1,96.8 787.4,97.9 788.2,99.7 790.4,101.2 791.9,103.6 793.3,107.5 791.8,109.3 789.9,113 789.1,114.1 787.4,115.1 784.9,117.2 783.3,119.7 781.3,120.5 780.9,123.1 778.8,124.5 777.2,126.5 777.1,128.7 775.4,130.6 773.1,132.5 772.7,134.6 771.8,136.5 769.2,137.4 769,139.9 768.1,142.5 767.1,143.9 766.4,146.8 765,148.8"/>
<path d="M790,112.5 792.1,111.5 793.6,109.3 795.9,108.4 798.4,107.9 798.7,105.1 801.2,104.4 802.2,101.7 802.9,98.8 803.9,96.9 803.5,95.6 805.2,92.1 805.2,90.7 806,87.4 807.1,85.1 808.8,82.3 810.9,79.3 815.5,78.4 816.7,80.7 819.2,82 822.6,83.1 825.1,84 828.2,84.3 829.4,84.5 832.8,84.1 835,84.6 837.8,84.2 839.6,82.9 840.9,82.7 842,80.1 842.9,77.7 842.1,74.7 840.6,73.1 838.3,70.5 835.7,68.2 838.3,66.2 839.8,63.8 843.2,63.6 845.1,62.4 847.9,61.8 850.2,61.3 852.6,60.7 854.2,58 857,57.8 857.8,54.6 858.8,52.5"/>
<path d="M765,148.75 780,151.25 795,153.75 796.25,156.25 793.75,175 791.25,190 790,198 805,206.25 823.75,200 835,207.5 843.75,217.5 831.25,223.75 840,235 853.75,253.75 846.25,268.75 850,282.5 860.5,295 872.5,282.5 885.5,273.75"/>
<path d="M878.75,52.5 873.75,70 881.25,88.75 867.5,107.5 853.75,120 836.25,132.5 842.5,150 855,153.75 870,162.5 885,177.5 892.5,174.5"/>
<path d="M620,223 624.2,224.6 627.1,225.6 630.4,226.2 632.5,225.1 634.7,224.5 635.9,223.6 638.9,223 641.1,222.8 643.3,222.7 645.4,225 647.8,227.4 648.7,230 649.6,232.1 650.1,233.9 650.1,236 649,238.1 649.1,240 648.3,242.2 650.6,244.5 652.2,245.8 653.3,247 656,248.4 657.9,248.8 659.6,249.7 662.1,249.8 664.8,249.4 667.4,249.1 670.2,249 671.5,246.7 674.1,244.1 675,241.7 676.6,238.5 677.7,236.6 679.4,234.6 680.9,232.3 682.1,230.2 684.2,228.4 687.1,226.2 688.3,224 690.9,223.1 693.2,222.4 695,221.4 697.2,222.5 699.5,223.8 702.4,224.2 704.4,225.9 706.1,226 708.1,228.2 710,229.9 712.3,231.5 715.4,230.8 717.2,229.6 719.8,229.1 722.3,227.3 724.9,226.2 727.2,225.7 729.8,225.9 732.9,226.6 735.3,227.7 738,227.5 740.9,227.5 743.9,226.8 743.5,229.3 743.3,231.1 742.5,234.2 741.2,236.5 741.2,238.9 739.6,241.5 736.6,241.3 734.1,241.1 731.6,242.1 729.8,243.4 727.7,245.3 724.6,246.3 722.8,247.8 719.8,249.4 717.7,251.3 715.5,252.9 713,253.4 709.5,255.1 707.6,256 704.7,257.8 702.8,259.5 704,262.1 706.2,263.4 702.9,263.6 700.6,266.2 699.4,268.9 698.3,270 696.5,272.5 695,274.1 693.5,275.3 691.4,275.9 691.1,273.6 689.8,271.3 687.8,272.8 685.5,274.2 687.7,276 689.1,278.1 691.3,280.3 689.4,282 688.1,283 686.7,285 684.5,286.5 682.8,288.6 681.7,290 679.4,292.5 677.1,295.4 676.2,296.6 674.7,299 674,300.9 672.7,304.2 672.2,306.7 671.3,308.3 668.8,311.2"/>
<path d="M668.8,311.2 668.5,313.3 669.4,314.9 670.5,317.7 672.3,318.8 674.6,319.7 677.3,321.2 678.8,322.3 681.1,322.6 683.1,322.5 686.3,323.8 688.1,323.5 689.8,324.4 691.3,326.4 694.5,327.2 695.5,327 698.6,328.1 699.5,328.1 701.3,330.7 702,333.1 704.5,334.7 704.6,335.6 706.7,336.9 707,338.7 708.1,341 708.7,342.5 711.2,345.1 710.9,346.6 712.7,349.4 714.2,351.2 715,353.2 716.3,355 717.4,357.4 718.8,357.9 720,361.4 721.8,363.2 722.3,364.3 723.1,366.2 724.2,368.6 724.5,371 726.3,372.4 726.3,374.8 728.8,376.9 730,377.5 731.7,377.9 734.6,380.5 737,381.4 739.9,382.9 741.2,383.6 742.5,387 744.6,386.7 747.5,386.7 749.9,388.3 751.8,389.3 754,390.2 755.4,392.6 756.4,394.5 757.5,396.3 756.2,399.2 753.8,400"/>
<path d="M735,397 736.9,395.5 738.3,394.6 740.7,395.3 742.8,395.2 745.5,395.8 747.4,397.5 750.7,397.1 752.7,398.3 755.2,399.7 756.8,401 754.8,402.7 752.3,402.1 749.4,403.6 748.3,403.9 745.8,401.8 742.5,401.5 740.6,401.8 738,400.8 735.3,399.5 735,397"/>
<path d="M742.5,403.8 744.4,405.7 747.3,406.8 749.7,407.4 752,408.5 753.3,408 755.2,411 758.1,412.3 758.7,414.2 762.1,416.2 761.7,420.6 759.9,420.9 759.1,422.7 756.6,423.7 753.9,425.1 752.3,425.5 749.3,428.1 747.8,429.4 745.7,430.7 741.8,433.5 740.4,435.2 737.6,437.4 735.3,438.5 732.9,439.5 729.4,440.6 728.3,441.3 725.2,441.3 727.2,443.8 729.5,445.6 730.5,447.4 733,446.6 734.6,446.9 736.9,445.4 739.6,444 743.2,442.1 744.5,441.8 748.3,440.7 750.2,441.8 752.1,441.3 753.5,441.9 756.2,443.9 758,444.5 760.1,445.4 762.3,446.8 764.5,448.5 768.9,445.6 769.4,443.4 770.3,441.3 771.2,438.9 772.9,436.7 776.1,437.7 778.7,436.5 780,436.2"/>
<path d="M362.5,251.2 360.6,252.4 359.6,253.6 356,255.8 354.9,256.7 353.9,258.6 352.6,262.1 352.1,264.5 352.8,266.6 352.2,268.4 352.2,269.9 353.6,273 354.4,274.9 355,277.4 356.3,278.9 359.8,279.1 361,279.5 363.1,280.4 364.7,281.5 367.4,283.1 369.4,284.6 370.9,284.2 373.3,286.3 374.5,286.9 377.5,287.7 380.5,288.4 382.6,290 385,289.8 386.1,291.4 387.9,294.1 389.3,295.8 389.5,299.6 389.1,300.9 388.5,304.3 386.7,305.7 385.5,307.2 384.3,310.3 386.5,311.4 387.7,314.3 389.2,316.1 388.7,318.5 389,320.7 388.3,322.2 387.3,325.1 384.6,324.7 382.9,325.6 380,326.2 377.8,327 374.6,326.5 372.6,327.6 369.2,327 367.5,328.1 365.3,328.1 367.1,329.7 367.9,332.8 368.8,335"/>
<path d="M272.5,263 275.5,263.2 277.3,263.9 280.6,262.9 282.5,264.5 284.5,265.8 285.6,267.9 287.9,269.4 289.7,270.2 290.2,272.9 292.9,275.6 293.7,277.3 295.7,277.2 296.3,280 297.8,280.8 299.7,283.1 300.2,284.7 300.2,288.2 300.9,290.6 301.8,293 303.1,295.3 305.1,297.8 305.5,299.2 306.8,303.2 303.3,305.1 300.7,306 302,308.5 303,310.9 303.6,313.3 307,313.6 308.1,315.2 310.7,315.8 314.1,317.6 317.1,320.3 318,320.3 320.4,321.4 322.3,320.8 324.6,323.3 326.1,324.9 326.6,326 329.3,327.2 330.6,324.9 333.2,324.2 332.9,322.1 331.2,318.9 331.7,317.4 331.5,315 333.3,313.1 334.9,312.3 336.9,311.4 339.3,309.7 342.1,307.9 343.8,306 343.8,303.1 342.4,300.8 340.6,298.2 339.7,298.4 337.3,298.1 334.7,297.5 332.5,294.8 331.2,293.1 330.1,290 329.6,287.2 331.6,285.4 333.5,284.9 334.5,281.7 335.2,281 336.2,277.9 335.7,276 335.4,273.1 338.4,272.3 341,272.1 342.8,271.9 345.1,272.2 348.5,272 350.3,271.8 353,272.5"/>
<path d="M368.8,335 366.1,334.9 364.1,335.8 362.5,336.7 359.7,338.2 356.9,335.9 354.3,334.3 352.6,333.3 350.1,333.1 347.8,332.5 345,332 342.1,331.7 340,332.9 337.8,332.6 336.3,333.2 334.2,333.3 331.7,335.1 332.1,336.7 332.3,339.8 331.2,342.9 332.9,344.7 330.8,346.5 328.3,348.3 330.6,350.8 332,351.1 333,354.2 334.5,355.6 333.4,356.8 333.8,360.2 332.9,362.7 332.3,365.7 330.7,367 329.4,370.1 331.2,373.3 332.3,374.3 334.5,378.3 329.9,377.9 327.6,377.3 325.2,377.4 323,377.4 319.9,376.6 318.3,375.7 315.3,378.3 313.6,379.8 311.9,383.1 311.9,386.7 313.8,387.8 314.2,390.5 315.7,391.5 315.5,394.9 316.2,396.2"/>
<path d="M316.2,396.2 313.4,396.6 311.9,396.7 310.1,397.4 308.2,397.5 305.7,398.2 302.8,398.7 300.9,399.4 300,400.7 298.7,401 295.7,403.7 295.6,404.9 293.6,404.9 290.8,405.3 288.5,405.7 287.3,405.7 284.3,404 282,403.4 279.3,402.5 277.6,401.7 275.5,399.3 273.9,398.6 274.2,395.9 273.1,395.1 271.9,392.4 272.2,390.3 272.6,388 273.8,384.6 271.8,384.2 269.8,381.4 269.4,379.6 266.7,378.9 265.4,376.7 262.7,376.6 260.4,374.7 258.3,373.1 256.5,372.7 254.2,372.7 252.6,372.1 250.8,372.1 247.9,371.9 247,369.6 244.3,368.7 243.2,366.9 242.1,365.5 240.6,362.7 240.7,360.8 238.1,357.7 236.7,355.6 235.2,353.2 232.3,353.6 229.6,355.2 228.3,355.1 225.4,356.2 223.2,358.3 221.7,360.7 219.4,361.1 216.5,363 215.2,364 216.6,366.8 216,368.2 218,370.8 217.1,373.2 215.6,375.8 213.7,378.3 212.9,380.7 209.2,382.1 207.5,383.8"/>
<path d="M207.5,256.2 209.2,256.1 212.6,255.2 214.6,252.9 214.7,251.4 216.5,254 216.9,254.6 218.1,256.7 219.7,259.1 222.2,260.8 223.5,261.6 225.3,262.9 227.6,264.7 228.6,267.6 229.3,268.8 229.7,270.5 229.1,272.7 228.7,274.8 230.1,276.1 231.7,278.8 233.1,280 234.5,283.3 234.7,284.4 235.3,287.4 237.1,290.5 237.7,292.7 239.8,293.6 241.9,296.7 239.2,298.8 239.4,300.8 237.8,301.3 235.8,303.9 234.1,305.9 231.7,307.9 231.4,309.5 231.8,311.2 231.8,313.7 231,316.2 229,317.3 226.3,318.6 225.3,318 223.5,320.5 221.5,322.6 220.3,323.2 220.4,326.2 218.8,328.6 218.5,329.5 217.5,331.1 215.1,331.8 212.5,332.7 209.7,334.3 208,336.8 208.3,338.3 210.2,340.7 209.6,342.8 212,345 213.2,347.5 213.4,349.1 214.9,350 216,351.2 214,352.4 212,353.6 209,354.9 207.5,357.5"/>
<path d="M437.5,251 438.7,251.1 439.6,253 440.7,255.6 440.7,258.4 440.4,259.3 440.5,262.8 439.5,265.6 438.2,267.6 435.5,269.3 434.7,273.2 433,274.4 434.6,277 435,280.4 436.2,281.9 436.1,285 435.9,287 436.8,289.6 437.6,292.9 438.3,294.4 437.7,297.5 438.2,299.2 440.2,301.8 439.2,304.3 440.7,307 440.2,309.7 440.9,313.2 440.5,314.6 440.5,316.9 439.7,319.7 439.8,322.4 439.5,325.4 436.8,328.2 435.6,330.8 435.6,333 434,335.1 434.1,337.8 434.5,340.3 435.3,341.3 434.8,343.9 436.2,346.2"/>
<path d="M436.2,346.2 438.6,346 440.7,345.4 442.9,345 445.5,344.4 446.6,342.8 449.6,343 450.6,341.1 453.3,340.7 455,340.8 457.8,339.9 458.5,338.8 461.8,338.4 462.2,336.4 465.7,336.5 467.7,334.8 469.7,333.1 471.9,332.1 473.9,332.5 476.4,331.5 479.6,330.7 480.2,328.2 481.1,326.5 481.8,323.5 484.3,324.3 485.1,323.8 487.4,324 489.9,323.8 492.9,323.5 494.2,323.8 497.4,323.4 499.3,322 501.7,321.6 504.6,319.5 508.3,318 510.8,316.9 512.8,316.3 514.2,313.6 515.7,311.6 516.8,309.2 518.9,307.2 519.3,304.3 520.1,303.1 520.8,300.5 521.3,297.1 520.9,295.4 521.3,293.1 521.8,289.5 522,287.5"/>
<path d="M436.2,346.2 438,348.3 438.3,350.9 438.5,353.6 440.8,355 441.9,357.3 442.4,358.1 443.2,361.3 444.4,361.7 446.8,364.7 447.9,367.3 449.1,369.9 450.6,371.5 452.5,372.9 454.2,374.4 453.9,377.4 454.3,379.4 455.5,383.3 455,386.2"/>
<path d="M455,386.2 452.8,386.6 450.8,387.5 447.2,386.4 445.5,387.3 443.1,387.4 440.5,388 438.3,387.7 435.7,388.2 433.3,387.6 430.1,387.8 426.7,387.2 425.4,387 422.8,386.6 419.2,386.1 416.8,386.9 414.9,387.4 412.8,389.2 415.6,389.4 417.9,390.3 420.7,390 423.3,390.8 423.4,393.5 425.1,396 427.6,396.4 428.7,397.9 431.6,398.4 432.5,401.2 434,403.2 431.4,405.3 428.3,406 427.3,406.3 424.1,406.6 421.6,407.5 420.7,408.3 418.8,409.1 417.5,411.6 416.5,414.3 415.9,416.5 415.6,418.3 416.9,419.5 415.9,423.1 416.5,425.1 418.6,427.3 419.8,428.3 420,431.2"/>
<path d="M529.5,251 527.3,253.8 527.6,255.6 526.6,258.3 525.5,259.8 524.5,261.9 523.1,263.9 523.3,265.4 522.3,268.5 521.4,270 519.6,272.3 518.2,274.7 516.2,275.9 514.4,276.9 516.8,280.1 518,282.9 519.2,284.1 521.2,286.2 522,287.5"/>
<path d="M522,287.5 525.4,287.4 526.9,289 529.3,288 532.8,288.9 534.8,289.8 538,290.1 540.6,291.5 541.8,291.5 544.3,291.9 547.4,291.4 549.8,293.3 552.2,291.4 555.6,290.9 557.4,289.6 559.2,290.5 562.1,290 565,289.5"/>
<path d="M565,289.5 566.8,287.5 566.8,284.8 565.2,282.3 564.6,279.5 562.8,276.9 562.1,274.9 564.5,273.7 566.9,271.8 569.6,269.3 571.9,268.2 572.3,266.9 573.5,263.5 575.3,263.3 576.5,259.7 575.8,258.1 577.7,255.2 579.6,253.1 581.2,251.6 582.5,251"/>
<path d="M565,289.5 566.4,292.9 566.9,294.6 565.9,297 566.3,299 567.9,298.1 570.1,297.5 572.1,295.7 575.1,294.8 576.8,293.2 578.5,292.2 580.8,290.4 584.4,290.2 585.2,292.4 582.9,294.1 581.4,294.9 578.9,295.9 576.4,297.1 575.1,298.3 572.9,299.7 571.3,302.2 570,305.1 568.1,305.4 565.5,307.3 563.8,309 561.7,310.5 560.3,313.3 559.3,316.4 557,318 556.6,321 556.1,322.8 557.9,323.5 560.2,323.7 563.4,324.9 565.1,328.7 567.9,330.8 568.9,331.8 571.2,334.3 573.4,335.4 576.5,336 580.7,334.5 581.6,334.1 585.3,333.9 586.9,334.2 588.4,333.8 592,335.4 593.6,333.9 596.2,331.8"/>
<path d="M596.2,331.8 595.7,329.6 596.1,327.1 596.1,324.9 597.6,323.3 601,322.2 603.3,322.8 605.5,323.6 609,324.3 610.5,325.7 611.5,326.4 613.9,329.6 615.6,330.7 618.9,333.7 621.2,331.4 623.2,330.6 626.3,332.2 628,333.3 631.2,333.7 633.2,329.7 635.4,326.9 638.6,326.1 640.3,326.4 641.9,328.3 643.6,330.7 645.9,332.3 649.2,333.2 650.6,329.5 650.7,327.1 653.2,324.2 653.6,323.3 657.9,321.3 659.2,319.1 659.1,316.4 660.9,313.7 663,311.9 665.4,311.3 668.8,310.8"/>
<path d="M591.8,335.5 592.4,337.4 594.8,338 597,339.6 599.6,340.6 602.2,341.7 603.6,343.4 606.3,344.7 605.6,347.9 604.3,349.7 604.2,351.7 606.7,354.4 603.7,355.2 601.9,355.5 600.7,355.8 597.4,358.6 594.9,360.8 592.2,358.8 591.3,356.4 589.3,355.4 587.6,354 585.6,350.7 582.1,351.8 579.5,351.2 579.3,353.8 579.6,355.1 578.8,356.7 579.8,359.6 580.4,363.2 577.5,363.7 575.3,365.4 574.9,368.3 573.7,371.2 571.7,372.1 574.2,375.2 575,378.2 572.6,378.3 570.4,379.4 567.9,381 564.8,381.7 562.4,381.3 563,384.8 566.8,385.5 568.4,385.9 569.9,387.6 570.4,391.2 569.4,392.5 570.4,393.9 571.9,397 574.3,395.9 578,396.5 580.2,396.6 582.7,396.9 585.6,397.1 587.5,395.6 589.3,394.5 590.6,397.1 591.8,400.5 592.5,402.8 593.6,404.7 592.7,407.2 593.4,409.2 594.4,413.2 594.2,415.6 593.8,417.5"/>
<path d="M596.2,331.8 598.8,333.3 601.4,334.6 604.4,335.4 606.4,335.5 610.2,336.6 612.8,338.8 614,340.3 616.2,342.7 619.2,345.3 620.8,345.1 623.2,345.2 626,344.9 628.3,345.8 632.4,347.4 634.2,349.4 636.1,354 639.1,354.2 641.2,354.4 644.8,352.4 648.1,352 647.9,355.1 647.6,356.9 648.6,360.5 646.3,362.4 644.6,365.4 646.5,366.9 648.2,370.6 649.2,371.5 652.2,371.8 653.9,374.4 655.6,375.5 656.2,377.5 657.7,380 659.6,380.4 662.5,380.6 665.6,380.5 666.5,378.8 668.1,377.6 670.4,375.5 672.9,375.2 675.1,374 676.9,376.1 680.7,377.2 680,379.6 681,382.3 680.9,384.7 678.4,386.5 675.6,386.7 673.2,386.9 671.3,386.1 668.9,384.7 666.7,386.1 664.2,388.2 666.6,390.8 666.9,392.5 665.4,394.3 664.5,397.4 663.2,400.4 661.5,402 661.2,404.8 663,407.9 664.8,410.7 666.6,411.7 667.6,412.5 670,415"/>
<path d="M455,386.2 457.8,387.6 460.3,389.2 462.6,392.1 464.5,392.5 465.1,394.1 466.8,396 468.6,397.5 471.7,398.4 473.6,400.7 475.4,401.8 477.2,402.3 480.8,403.4 482.9,405.6 483.8,405.4 485.8,407.1 488.9,406.6 490.7,407.3 492.9,408 495.3,408 498.2,408.5 500.6,407.9 501.7,408 504.5,409 507.9,407.7 510.2,408.2 512.4,407.7 515.3,407.2 517.2,406.7 520.7,405.8 521.8,405.8 525.8,405.3 527.1,405.3 530.5,404.9 531.2,408.3 531.7,410.6 533,413.3 534.5,416.4 535.3,418.5 537.4,419.8 539.4,419.8 542.7,420.5 545.2,420.7 546.7,421.2 549.3,420.8 552.7,420.7 555.4,421.9 557,423.3 559.5,423.7 560.3,426 561.9,427.7 564.6,427.8 567.9,428.1 570,428.2 572.8,428.1 575,426.7 576.9,426.2 579.2,427.5 581.7,427.6 583.4,426.2 584.7,425 585.9,424.1 587.9,421.1 589.8,419.4 591.9,419.3 593.8,417.5"/>
<path d="M316.2,396.2 317.8,398.9 319.5,401 323.1,401.3 325.5,402.3 327.2,403.3 330.5,403.2 332.8,403 334.5,403.2 338,403.2 340.5,403 343,405.8 344.8,406.4 347.7,407.3 350.1,408.4 352.7,410.2 355.4,412 357.5,412.3 359.6,413.3 362.2,414.8 365.4,416 367.3,416.4 370,417.8 371.7,418 374.8,418.1 377.3,418.8 380.4,418.4 383.2,416.9 384.2,416.5 386.2,418.8"/>
<path d="M386.2,418.8 388.3,419.6 389.8,421.1 392.3,420.8 394.8,423.2 397.6,423.5 399.8,425 400.9,425 402.9,426.8 404.3,428.3 408.1,429.1 410.8,430.1 412.8,430.7 415.7,430.5 417.8,430.8 420,431.2"/>
<path d="M420,431.2 421.7,432.7 424.9,435.2 426.2,437.1 429.2,438.1 430.7,440.2 432.9,442.7 433.4,444.8 434.8,446.7 435.3,448.8 435.1,450.7 434.5,452.3 433.1,454.2 432.1,456.9 428.8,458.2 427.5,459.1 424.4,457.1 421.7,457.8 421.1,458.9 418.5,460.2 416.8,461.7 414.1,463 411.7,464.5 409.5,464.7 407.8,463.6 405.4,463.7 402.9,466.4 399.2,468.2 397.2,467.5 395.7,468.1 394.1,468 390.9,468.5 389.5,469.4 386.1,470.2 387.2,473.1 388.8,475.9 389.3,478.1 388.9,479.5 389.1,481.9 390.7,484.7 388.4,487.3 386,488.7 388.5,490.8 389.2,491.3 391.5,492.2 393.7,494.1 395,495.5 397.1,497.4 399,498.3 400.8,500.7 402.6,501.4 405.5,502.5 407.1,505 408.8,507.6 411.2,508.8"/>
<path d="M386.2,418.8 385.8,420.6 383.7,423.2 383.2,424.7 384.9,427.5 386.3,428.7 387.9,430.9 385.5,433.2 384.7,435 384,437.1 382.3,439.8 380.9,441 378.2,442.3 377.6,445.3 377,446.3 375.7,449.2 372.8,451.1 372.3,452.3 370.8,455.1 367.4,456.4 366.5,458.3 363.4,458.5 360.6,461.4 359.4,462.6 357,465.3 356.3,467.8 354.8,469.7 353.4,471 352.1,473.6 350.6,475.6 348.9,477.9 347.2,479 346.1,481.2 344.3,481.6 340.8,482.1 339.3,483.1 337.6,480.1 336.8,478.6 334.9,475.8 333,475.1 330.6,474.6 328.1,476.4 325.2,478 322.8,476.4 321,474.2 319.5,473.6 316.9,473.2 313.9,471.2 312.7,471.2 310.8,472.9 309.9,475.2 308.4,476.5 306,476.4 304.3,478.2 303.7,479.3 305.3,481.3 305,482.9 304.3,485.7 301.7,488.7 301.3,491.7 299,492.7 296.3,494.5 296.9,497.7 298.6,498.5 298.2,501 300.6,502.7 302.3,502.9 304.4,505.4 306.6,507.3 307.6,508.7 309.4,511.7 310.9,513.5 313.8,515"/>
<path d="M313.8,515 316.3,516.4 318.3,518.2 320.4,520.5 322.3,522.4 324.2,524.3 325,525.4 328.2,524.1 329.2,522 331.5,523.8 333.7,525.5 334.9,526.9 337.8,526.8 339.5,524.6 340.8,524 342.7,521.8 344.8,520.4 347,519.7 349,516.7 350.7,516.8 352.5,516.1 354.6,514.5 356.4,512.5 356.8,510.9 358,508.3 359.8,508 362.5,507.3 365,506.5 367.2,508 369,510.5 371.2,511.6 374.7,511.9 378.2,510.8 380.9,511.7 382.6,512.9 384.2,515.7 385.6,518.3 384.5,521.5 386.7,522.2 389.6,523.4 391,524.9 391.9,527.7 393.1,529.8 394.2,532.1 397.3,532.5 398.9,533.4 401.5,534.5 403,536 404.3,536.7 406.2,535.8 407.3,532.9 409.5,531 409.7,529.3 410.8,527 411,525.5 411.5,522 411.8,519.9 411.9,516.9 413.1,514.9 412.4,512.4 411.5,510.1 411.2,508.8"/>
<path d="M411.2,508.8 412.8,507 413.8,505.2 414.1,502.8 415.6,500.3 416.2,498.8 417.4,496 419.7,495.3 421.5,493.2 423.3,491.6 424.5,490.1 427.2,489 429.6,489.6 432,488.3 435.6,488.9 436.8,489.7 440.2,489.9 441.8,490.4 444.6,490.4 447.1,487.5 447.9,487 448.1,483.4 447.9,481.8 447.4,479.8 450.7,479.4 453.3,477.1 455.7,478.5 457.1,478.2 460.3,478.6 462.5,478.7 464.3,479.8 466.9,479.8 470.4,480.8 471.8,482.2 475.2,482.4 476.7,482.8 480.8,483.5 482.4,484.1 485.6,484.1 487.5,485.1 489.9,485.1 491.4,486.7 494.5,487.4 494.8,489.9 497.1,491.8 500.5,491.6 502.3,490.9 505.5,489.9 507.6,489.5 510.4,487.1 512.2,486 514.8,485.4 517.4,484.9 517.9,487.8 519.2,489.6 519.2,491.7 521.7,491.8 524.4,489.2 525.2,489 527.6,486.9 529.5,486.5 531.3,484.3 532,483.3 534.4,481.4 534.1,483.7 534.5,486.5 537.3,487.9 539.3,490.8 538.9,492 538.6,493.6 539,497.2 539.3,498 541,500.5 542.7,502.2 544.7,503.5 547.5,503.8"/>
<path d="M411.2,525 411.8,528 411.8,529.8 412.6,533.1 414.3,535.6 414.6,537 414.3,539.6 416,542.6 416.4,544.9 416.9,547 418.3,550.1 418.1,551.7 417,553.6 414.8,556.3 414.5,556.8 412.7,559.8 410.2,560.6 408.8,562.7 405.9,565 405.1,565.3 401.9,567.2 401.3,569.9 403,570 405.2,568.8 407.8,569.8 409.3,568.5 413.2,567.8 415.7,567.9 417.7,567.3 418.6,569.3 420.8,573.3 421.3,574.7 420.7,576.4 419.6,578.6 419.2,580.8 419.9,583.2 417.7,586 416.9,587.6 418.9,588.9 419.8,590.9 420.7,593.5 419.8,596.7 420.5,600"/>
<path d="M313.8,515 311.4,516.5 310.4,518.3 308.5,519.6 308.1,521.3 306.3,523.4 305.2,526.2 306.1,527.6 307,529.9 307.6,532.1 309,534.9 310.5,535.1 312.2,536.9 314.7,538.5 318.2,537.6 319.8,539.2 322.5,540.1 323.2,541.7 325.3,543.3 324.5,546.7 325.3,548.9 322,548.5 320.8,550.4 317.1,550.8 315.5,550.9 313.2,549.8 309.5,551.6 307.8,551 305.2,550.5 302.4,550.3 299.9,550.8 298.8,547.9 296.2,547.5"/>
<path d="M296.2,547.5 295,544.8 295.4,543.6 293.4,541.1 290.8,540.8 288.7,539.8 286.6,540.6 285.8,540.7 282.6,542 280.6,542.4 280.2,545.5 277.3,545.7 275,546.1 274.1,546.2 272,544.3 270,543 267.3,541.4 266.3,539.3 267,537.4 267.1,535.4 269.5,532.2 267.4,529.2 265.5,528.1 267.4,525.4 269.4,523.7 266.4,523.2 263.8,523.8 261.3,523.1 258.6,523.8 255.7,524.1 253.9,524.1 252.8,525.9 251.6,528.2 250.5,530.6 248.6,532.7 247.1,535.3 245.9,536.3 243.8,536.7 241.3,538.6 240.4,541.4 240.5,543.2 241.6,545.6 242.7,547.1 239.5,549.1 238.2,551.3 235.7,552.8 232.8,553.7 231.3,554.7 229.5,556.8 226.5,558.1 225.1,560.5 223,561.8 221.2,563.9 221.1,564.6 221.9,567.9 222.6,570.7 223.3,571.7 223.9,574.3 225,577.6 224.4,581.7 225.3,582.4 225.5,584 224.1,587 223.7,589.2 221.3,589.6 219.6,590.4 216.7,591.2 214.3,592.2 211.2,591.2 210,590.6 207.5,590.5"/>
<path d="M296.2,547.5 296.3,550.3 295.3,553 293,555 291.9,556.5 288.2,557.9 285.9,559 283.9,559.5 281.9,560.8 280.5,561.1 278.4,561.8 276.1,562.6 274.4,562.6 271,561.2 268.9,560.7 267.7,558.5 265.3,560.3 263.3,561 260.8,559.8 257.7,559.3 256.9,559 253.4,560.7 251.5,563.2 249.3,564.1 247.7,565.4 246.2,568 244.3,569.3 245.7,571.4 245.9,573.1 246.9,574.3 247.4,578 247.2,581.1 248.1,582.9 250.7,583.8 253.2,584.6 255.7,583 258.8,580.4 260.7,581.4 263,582.4 264.2,582.3 266.9,582.9 269,581.2 271.9,580.8 272,584.1 273.9,586.9 275,589.4 273.1,590.5 272.6,594 271.8,595.6 270.5,597.7 268.7,599.3 267.9,602 266.4,605.8 266.3,607.5 265,610.8 263.4,611.8 266.2,614.1 267.9,616.2 270,617.5 272.7,619 273.6,621.1 275.5,623.6 277.7,625.4 276,626.6 275.6,628.7 274,630.4 271.8,633.8 269.2,637 269.1,638.5 267.5,640"/>
<path d="M581.2,427.5 582.2,429.8 583.7,431.4 585.6,434.4 586.9,435.5 590.5,436.1 593.3,437.7 594.3,438.1 598.3,440 599.9,441.7 599.3,443 598.1,444.9 596.4,447.5 595.6,450.8 594.6,453 597.1,455.2 597.4,457.5 598,458.8 600.6,460.9 602.9,461.8 604.3,463.9 604.8,466.1 606.3,469.3 607.5,471.7 608.8,475"/>
<path d="M608.8,475 610.1,473.1 612.9,472.7 614.6,471.2 616.4,470 619.9,467.8 621.6,465.7 623.7,466.7 626.5,467.5 628.1,469.9 628.8,472.1 625.6,473.2 623.8,474.9 624.7,478.3 624.6,479.4 627,478.8 629.7,477.5 632,475.4 632.9,474.8 633.7,471.9 636.9,469.5 638.2,470.5 640.4,471.5 643.8,471.7 645,471.7 648.4,473.7 650.8,475.7 652.4,476.2 655.3,477 656.9,478.1 660.5,477.4 661.8,478.6 665.6,478.4 668.8,477.5"/>
<path d="M547.5,503.8 549.5,501.5 549.4,498.1 552.4,497.1 555,496.2 557.7,495.7 559.7,494.6 562.5,493.2 564.8,493.1 567,491 569.7,490.5 571,490.3 572.9,488.7 576.1,487.8 576.9,487 579.3,484.5 581.1,484.2 582.1,482.4 584.9,481 586.1,480.8 587.6,478.5 590.4,477 592.3,477.7 594.3,476.5 597.5,475.9 599.4,475.8 602.3,475.6 603.9,474.7 606.5,475.2 608.8,475"/>
<path d="M547.5,503.8 549.6,505.6 551.1,507.7 552.9,509.7 553.2,512.2 553.5,514.4 555,517 555.1,520.3 556.4,523.3 556.7,525.6 556,527.1 554.5,528.6 552.5,530.1 550.2,531.8 548.3,533.7 545.8,534.3 545.6,536.4 544.8,538.6 544.6,540.9 543.2,544.1 542.3,545.3 540.8,547.3 541.3,550.1 543,552.4 543.3,554.1 545,553.8 548.4,555.4 550.3,554.9 548.5,556.9 548.6,559 546.8,561.2 548.6,563.5 550.7,566 553,568.2 553.3,569.7 553.8,572.2 554.1,575.8 555.9,577 557,579.1 558.5,580.6 557.9,585.8 560.5,585.4 563.3,586.8 562.3,590.6 560.1,592.4 559.9,595.1 559.2,597.5 557.4,598.1 557.7,600.1 556.8,602.2 556.8,604.9 557.6,607.4 558.8,610.5"/>
<path d="M670,415 670.6,413.1 671.7,415.2 674,416.9 676.9,420.5 673.9,422.1 676.4,423.9 678.2,424.1 681.2,422.7 682.6,421.3 685,422 687.2,421.2 690,420.9 691.2,419.7 693.8,421.2 694.7,422.2 697.4,422.2 700.5,423.2 702.4,421.8 703.8,421.1 706.3,421.8 708.1,421.4 711.2,421.9 711.8,421.7 714,422.5 717.3,424.2 719.4,425.8 720.7,427.4 724,428.8 727.5,429.9 728.2,427.1 730.3,425.1 731.5,423.5 733,421.1 737.3,419.2 738.1,421.8 740.3,425.4 741.8,426.6 744.3,429.6 747.4,428.3 750,426 751.9,425.7 753.9,424.7 755.7,423.4 758,422 759.7,421.5 762.5,420"/>
<path d="M737.5,419.5 737.2,416.9 738.5,414.3 738.7,412.9 738.9,410.8 737.8,408.5 737.8,406.7 740,405.2 742.5,403.8"/>
<path d="M700,423 698.9,426 699.7,428.5 698.5,430.7 698.2,432.7 696.3,435.7 694.3,437.8 694.7,440.4 696.5,442.4 696.2,445 693.4,445.5 692.8,447.7 690.8,448.3 687.7,449 685.2,451.1 683.2,452.1 683.4,452.8 683.6,454.6 682.2,457.4 683.4,459.1 683.9,462.1 684.3,463 681.5,467 679.8,468 677.9,470 677.2,472.9 674.9,473.8 671.7,475.7 670.2,478.2 668.1,479.3 666.2,480"/>
<path d="M666.2,480 666.4,482.2 664.8,483.9 664.5,486.4 665,488.1 665.2,490.3 666.5,493 668.4,493.9 670,495.1 671.8,497.1 674.3,498.6 674.3,501.7 676.6,503.9 678.3,505.6 678.5,507.6 679.6,509.6 680.8,511.2 683.1,511.4 686.8,511.8 688.7,512.6 689.5,514.2 689.3,515.3 686.9,517.8 689,519.4 690,521.5 691.6,523.3 692.9,525.6 693.9,526.5 694.3,528.8 695.5,531.4 698.1,531.9 699.7,534.2 702.1,533.2 705.8,531.5 707.4,531.9 709.3,530.1 711.9,528.4 713,527"/>
<path d="M680,511.2 677.6,512.3 676.5,514.7 673.7,515.7 671.5,517.2 671.4,518.6 669.1,521 667.4,521.9 665.1,523.3 662.9,524.9 660.4,524.2 657.9,525.7 655.6,526.9 653.8,527.8 651.6,528.2 650.2,531 649.2,532.2 647.2,533.9 645.7,536 642.9,538.2 643.3,540.3 643.9,542.5 644.2,544.3 644.4,546.5 642.3,548.2 640.4,550.7 639.7,552.1 638.3,554.7 635.2,555.3 634,557.3 632.8,560.7 632.5,561.7 631.5,565.6 631.5,566.7 632.7,570 632,572.9 631.9,574 630.8,577.1 630,578.5 628.1,580.7 629.6,583.2 627.9,585.5 627.5,588 626.3,589.5 625,591.7 624.4,594.2 622.6,596.2 622.7,599 622,601.9 621.6,603.2 619.3,606.6 618.9,608.3 617.7,610.4 617.7,613.3 617.5,616.7 616.2,618.8"/>
<path d="M780,436.2 776.7,437.7 774.6,439.5 772.4,440.3 770.5,441.7 768.7,444.1 768,447 771.4,448.2 772,449.8 772.1,452 770.1,455.2 770.4,458.3 768.3,459.3 765.4,462 763.3,461.8 760.3,463.2 759.3,464.2 762,466.8 763.9,468.1 765.3,468.6 767.1,471.9 766,473.9 763.3,474.9 764.8,476.7 767.7,479.5 769.3,481.9 772.2,482.8 771.2,484.5 768,488.2 769,489.4 770.3,492.1 770,495"/>
<path d="M770.6,495.3 769,498.9 765.7,499.6 763.7,501.2 760.5,505.2 757.3,506.1 756,503.5 755.2,505.6 754.3,507.2 753.1,511.1 749.4,511.5 750.2,513.5 748.6,517.8 746.2,520.5 746.4,524.7 748,527.6 746.8,529.4 745.1,531 743.5,534.1 741.7,535.9 738.9,539.6 738.3,543.4 735.5,545.6 732.4,548.1 730.4,550.7 728.9,554.1 727.9,557.1 728.7,560.7 729.1,563.1 727,566.5 725.3,569.5 725.6,572.5 727.5,574.2 726.5,577.6"/>
<path d="M700,533.5 703.1,533.3 705.6,532.3 707.7,532.3 710,530.2 711.1,528.9 713,526.2 715.6,525.4 717.8,527.6 719.5,529.8 721.7,533.5 718.6,535.6 716.8,538.8 714.3,539.3 712.9,542.2 714.4,544 715.6,546 717.3,547.7 720.4,549.4 723,552.1 725.3,552.4"/>
<path d="M721.8,534.1 723.6,535 726.1,533.9 726.4,532.8 730,530.9 734.8,530 737.7,530.1 739.7,531.7 741.4,534.8 738.1,535.8 737.9,539.9 735.7,541.8 735.3,543.5"/>
<path d="M723.5,535.3 721.7,538.6 724.5,542.9 724.5,544 725.7,546.4 726.4,548.7 727.6,552.9"/>
<path d="M727.2,577.9 724.6,580.1 725.6,583.7 727.9,585.5 732.8,585.4 735.4,585.2 732.9,588.1 731.6,591.4 730.3,595.5 729.5,596.4 727.7,596.5 723.3,597.9 720.5,596.8 718.6,592.8 714.6,592.3 711,592.2 708.8,594.9 711.6,598.9 712.4,601.6 710.9,604.8 708,607.4 704.6,608.1 702.6,606 699.8,603 700.9,599 697.5,600.7 698.2,602.6 698.9,604.5 700.1,606.3 699.5,608.5 702,611.4 705.1,613.6 705.7,616.1 703.8,618.2 700.7,619.5 700.1,621.1 696.4,622.8 693.5,625.1 690.4,627.6 689,629.4 685.9,632.3 681.2,631.9 679.2,632 675.5,632.9 673,634.2 670,632.9"/>
<path d="M758.4,503.2 756.2,500.6 755.9,501.7 758.4,503.2"/>
<path d="M760.5,501.6 759.2,502.6 761.8,504.3 760.5,501.6"/>
<path d="M760.9,512.8 759.1,514.7 758.7,514 762.1,511.8 760.9,512.8"/>
<path d="M760,511.5 758.8,512.5 760.5,512.6 761.3,510.2 760,511.5"/>
<path d="M757.4,508.9 759.4,509.8 758.6,510.2 756.7,509 757.4,508.9"/>
<path d="M758.1,514 756.5,515 756.4,514.2 759.4,511.5 758.1,514"/>
<path d="M759.3,503 759.9,503.9 758.1,501.4 759.3,503"/>
<path d="M761.3,501.2 759.7,502.4 760.9,501.6 759.1,501.8 761.6,501 761.3,501.2"/>
<path d="M756.6,508.1 757.4,505.9 756.5,505.4 755.7,505.3 756.6,508.1"/>
<path d="M758.7,498.1 758.2,501.1 756.2,500.5 757.3,498.7 758.7,498.1"/>
<path d="M739.9,531.2 737.7,533.2 740.7,533.7 738.3,531.2 738.9,531.8 740.3,534.4 739.9,531.2"/>
<path d="M737.4,538.9 735.3,538.2 738.6,538 736.5,537.6 737.5,539.4 737.4,538.9"/>
<path d="M738.5,533.4 735.8,533.6 736.4,534.6 738.5,533.4"/>
<path d="M740.9,535.4 740.2,535.8 739,536.3 740.9,535.4"/>
<path d="M736.6,535.1 737.2,534.9 736.2,537.5 737.9,534.4 738.2,534.4 736.6,535.1"/>
<path d="M735.7,544.9 735.3,545.4 736.1,543.6 736.4,546.6 734.7,544.6 735.7,544.9"/>
<path d="M738.2,538.2 739.5,537.1 738.3,537.8 738.1,535.5 739.3,536.2 738.4,538.1 738.2,538.2"/>
<path d="M737.4,541 737.2,539.9 737.7,540 737.4,541"/>
<path d="M742.2,537.4 741.7,538.1 740.5,537.8 741.1,539.3 741.2,538.8 743.5,539.7 742.2,537.4"/>
<path d="M736.3,544.5 736.6,541.6 737,543 736.2,544.5 734.6,543.2 736.3,544.5"/>
<path d="M727.4,560.3 728.6,558.4 729.2,558.3 727.4,560.3"/>
<path d="M729,556.2 729.1,559.8 729.3,558.3 729,556.2"/>
<path d="M735.4,557.8 735,558.8 732.1,558.1 735.4,557.8"/>
<path d="M726.8,564.9 727.1,563 729.2,564.8 728.9,564.6 726.8,564.9"/>
<path d="M726,555.2 724.9,556.6 726.5,554.4 726,555.5 727.2,556.3 724.8,557.3 726,555.2"/>
<path d="M731,560.9 730.5,561.6 733.4,561.2 733.9,560.2 733.2,561.3 731,560.9"/>
<path d="M728.8,554 727.7,552.3 727.8,554.7 728.8,554"/>
<path d="M735.4,558.2 733.9,558.4 734,557.1 734.5,555.5 733.7,557.6 735.4,558.2"/>
<path d="M724.5,562 726.4,563.7 727.4,563.6 725.3,561.8 725.6,563.7 728,560.8 724.5,562"/>
<path d="M729.1,562.2 729.8,560 729.7,561 731.5,560.2 729.1,562.2"/>
<path d="M733.1,564.4 735.1,563.6 733.5,562.5 733.1,564.4"/>
<path d="M725.5,559.1 726.1,559.5 726.6,559.1 725.3,559.5 725.7,560.3 725.4,562.4 725.5,559.1"/>
<path d="M730.4,555.1 728.4,553.2 728.5,556.6 728.5,554 727.1,555.7 730.4,555.1"/>
<path d="M729.9,549.6 731.6,550.2 730.6,552.4 730.8,550 729.9,549.6"/>
<path d="M729.1,556.5 728.5,553.8 729.2,554.9 729.6,555.3 730.2,555.9 729.1,556.5"/>
<path d="M731.8,560.1 730.9,560.6 728.9,559.3 729.9,560.2 731.6,563 730.6,562.9 731.8,560.1"/>
<path d="M733.2,554.7 734.8,555.7 734.8,558.3 735.3,554.3 736.5,555.7 733.2,554.7"/>
<path d="M728.8,551.7 728.2,550.5 725.9,551.7 728.8,551.7"/>
<path d="M727.6,565 726.1,562.6 729.8,562.1 728.1,563.9 728.4,564.4 728.2,563.9 727.6,565"/>
<path d="M729.9,556.8 732.7,554.1 732.8,554.2 733.8,554.4 729.9,556.8"/>
<path d="M729.8,554.9 730.9,555 730.3,554.5 732.2,555.3 729.8,554.9"/>
<path d="M727.6,560.3 724.8,557.4 726.4,560.3 727.4,559.2 727.4,557.4 724.9,559.3 727.6,560.3"/>
<path d="M725.4,573.4 725.2,575.9 726.4,574.6 724.9,574.8 725.4,573.4"/>
<path d="M723.2,572.1 723,572.2 724.2,574.2 724.2,571.7 723.8,574.5 723.1,573.3 723.2,572.1"/>
<path d="M723.7,571.9 725.8,573.3 723.6,574.3 724.9,573.4 723.1,573.9 723.7,571.9"/>
<path d="M728.1,575.2 726.7,573.5 728.6,572.8 728.2,572.7 728,574.6 728.8,575.1 728.1,575.2"/>
<path d="M724.4,570.3 725.4,571.9 726,572.3 725,570.5 724.4,570.3"/>
<path d="M726.4,569.6 726.7,570.9 728.4,568.8 726.8,568.7 726.4,569.6"/>
<path d="M726.2,566.5 723.5,568.6 724.3,568.7 724.9,568.9 726.2,566.5"/>
<path d="M726.9,573.6 726.5,572 725.9,572 727.3,572.9 728.2,573.3 727.9,574.8 726.9,573.6"/>
<path d="M724.4,586 724.9,585.3 725.8,584.9 726.8,586.1 724.4,586"/>
<path d="M730.1,583.5 727.6,582.3 727.5,585 730.2,582.4 729.3,584.7 729.9,585.1 730.1,583.5"/>
<path d="M731,587.2 731.1,586 729.3,584.9 730.5,584.8 729.5,587.6 730.9,585.2 731,587.2"/>
<path d="M730.9,586 730.3,586.6 730.6,587 730.9,586"/>
<path d="M730.7,584.5 730.8,583.3 729.3,583.3 730.7,584.5"/>
<path d="M728.4,582.8 730.9,581.1 729.6,582.8 728.3,581.8 728.4,582.8"/>
<path d="M736.2,584.6 736.3,583.8 735,585.7 736.2,584.6"/>
<path d="M732.6,582 732.7,582.8 730.5,582.2 732.6,582"/>
<path d="M711.2,596 713.4,595.4 711.1,594.9 711.2,596"/>
<path d="M713.5,599.1 715.5,597.3 714.3,598.4 715,598.4 715.7,596.4 713.5,599.1"/>
<path d="M718.3,590.4 716.1,590.7 719.5,591.4 717.4,593.5 717.2,592.2 717.7,590.5 718.3,590.4"/>
<path d="M711.9,595.8 709.7,592.5 709.9,594.5 709.1,595.7 711.9,595.8"/>
<path d="M722.8,595.9 723,598.2 721.1,598.9 720.2,596.7 723,597 722.8,595.9"/>
<path d="M717,593.8 715,595.2 717.3,593.5 714.6,595.6 717,593.8"/>
<path d="M714.6,597 713.7,597.5 715.5,597.3 714.6,597"/>
<path d="M722.3,595.4 720.7,593.5 721.5,592.4 722.1,595 722.3,595.4"/>
<path d="M721,598.2 719.7,598 722.6,597.9 719.2,596.4 721,596.6 721,598.2"/>
<path d="M720.4,597.8 717.9,598 720.2,598.2 718.6,595.9 720.2,596.6 718.6,596.8 720.4,597.8"/>
<path d="M710.6,596.2 710.7,595.8 711.4,595.4 711.3,597.2 710,596.8 710.6,596.2"/>
<path d="M715.9,592.5 717.2,590.9 716.6,591.1 715.9,592.5"/>
<path d="M700.5,610.2 699.5,610 700.6,609.2 699.5,608.6 699.3,608.9 702.3,609.3 700.5,610.2"/>
<path d="M702.5,604.6 700.5,602.2 702,602.4 700.6,603.1 700,604 701.6,605.5 702.5,604.6"/>
<path d="M698.3,604.6 700.9,605.9 700.4,608 698.6,605.2 701.3,606.3 698.4,606.5 698.3,604.6"/>
<path d="M706.1,610.5 707.9,606.6 705.4,610.3 706.4,610.6 706.1,606.9 706.1,610.5"/>
<path d="M700.7,601.1 699.4,601.5 703.1,600.4 702.2,599.9 701.2,601.8 700.7,601.1"/>
<path d="M705.9,604.9 703.6,603.4 703.5,605.8 701.9,605.3 705.9,604.9"/>
<path d="M708.4,605.6 711,606.6 708,608 708.4,605.6"/>
<path d="M707,610.5 704,609.8 706.2,609 705.2,611.4 704.2,611.3 707,610.5"/>
<path d="M704.8,603.1 707.7,605.7 705.1,603.2 707.1,606.2 704.9,606.2 707.6,604.9 704.8,603.1"/>
<path d="M703.3,607.2 704.3,607.8 703,609.8 703.3,607.2"/>
<path d="M699.2,607.2 701.3,607.8 699,606.2 699.2,607.2"/>
<path d="M708.5,603.3 707.7,602.2 708.9,603.8 708.5,603.3"/>
<path d="M709.4,611.2 708.2,610.9 706,608.7 705.5,612.2 708.2,612.4 705.5,611.1 709.4,611.2"/>
<path d="M698.5,606.1 699.7,607.2 698.1,609.5 700.9,606.3 701.8,607.1 698.5,606.1"/>
<path d="M710,609.5 709.7,611.3 708.8,610.3 710,609.5"/>
<path d="M699.9,611.7 703.6,612.6 702.5,610.7 699.9,611.7"/>
<path d="M690.9,620.9 691.7,621.8 693.3,623.3 692.6,622.9 692.8,621.4 690.9,620.9"/>
<path d="M693.2,623.9 693.2,623.4 694.2,622.4 696,621 693.2,623.9"/>
<path d="M700.9,625.5 703.9,622.4 702,622.5 701.7,624.2 700.9,625.5"/>
<path d="M699.8,625.6 698.1,626 700.2,625.5 699.8,625.6"/>
<path d="M695.3,621.4 694.2,619.2 693.1,620.4 695.3,621.4"/>
<path d="M695.5,620 696.3,621.5 694.9,620.1 697.4,618.8 695.5,620"/>
<path d="M701.5,623.6 700.4,622.8 700.7,623.4 701.5,623.6"/>
<path d="M700.4,623.4 700.1,622.1 699.5,622.4 700.8,623.9 699.1,624.4 700.4,623.4"/>
<path d="M691.5,623.7 694.1,621 691.8,623.8 692.1,621.9 691.5,623.7"/>
<path d="M699.9,623.8 698.2,620.3 697.6,623.1 699.9,623.8"/>
<path d="M683.3,631.9 684.1,631.8 681.6,629.8 684,632.2 683.3,631.9"/>
<path d="M686.5,629.5 683.3,629.3 686.1,627.4 686.5,629.5"/>
<path d="M680.9,627.9 681.1,628.8 680.8,629 679.6,628.3 680.9,627.9"/>
<path d="M679.9,629.3 680.9,628.1 680.3,629.4 679.9,629.3"/>
<path d="M686.4,627 685.2,627.3 685.8,626.9 685.5,629.2 686.6,628 686.5,629.2 686.4,627"/>
<path d="M683,628.3 682.1,627.4 684,625 681.2,627.7 683.7,627.1 681.2,626.3 683,628.3"/>
<path d="M685.1,626.5 685.7,626 684.9,626.9 686.6,626 685.1,625.6 685.1,626.5"/>
<path d="M679.9,626.8 678.5,625.4 680.7,626.7 681.1,625.3 679.4,626.8 679.9,626.8"/>
<path d="M267.5,640 268.9,642.7 271.3,644.4 273.8,643.5 275.5,642.7 277.1,641 279.1,640.5 281.7,637.9 283.2,636.9 285.4,635.6 287.7,634.9 289.2,633.3 291.6,632.9 293.4,632.8 294.7,633.8 298.1,634.4 300.8,635.8 302.4,638.3 305.4,638.1 308.2,639.4 310.5,640.1 311.7,639.8 315.7,640.5 316.3,640.1 318,638 319.6,636.8 320.6,635.2 323.1,631.8 325,632.4 326.7,630 329.2,630.8 333.1,629.1 334.6,627 338.1,627 339.1,625.3 341.1,625.1 343.5,624.5 345.3,620.9 346.1,619.1 347.2,617.2 350.3,615.9 352.9,614.6 354.2,615.4 355.3,618.1 358.2,618 359.3,621.2 360.3,621.8 362.2,623.2 365.8,625.2 367.9,625.9 370.7,626.9 373,626.1 375.6,626 377.3,624.2 378.4,623.3 380.3,620.3 383.3,618.9 384.6,617.2 386.2,616.6 389.4,616 390.8,617.4 394.5,619.8 395.1,617.8 397,616.7 398.1,613.2 400.5,612.6 403.8,612.4 404.7,611.1 408.3,610.2 410,609.1 412.4,606.8 414.2,605.5 416.9,603.4 419.2,602.4 420.5,600"/>
<path d="M267.5,640 268.3,641.7 270.1,645 271.3,646.8 274.6,650.5 275.8,648.6 277.7,648.7 279.5,647.9 281.8,648.6 284.8,647.9 286.7,648.6 289.4,648.6 289.4,650.1 289.9,652.3 292,654.9 293.7,655.9 295.4,657.5 296.8,656.7 300.2,657.9 302.5,658 305.7,658.6 307.4,658.9 310.7,657.9 312.6,656.8 315.5,659.6 318.1,661.7 317.5,662.6 319,665.9 319.6,667.3 319.5,669.9 319.2,672.3 318,673.8 316,676.1 316,677.6 315.1,679.3 314.4,683.1 313,685.7 313.1,686.8 313.3,689.6 316.7,691.5 318.8,691.6 320.8,691.5 322.4,692 324.9,694 327.4,693.4 330.2,695.1 332.9,694.3 335.4,695.4 336.7,695.5 340.2,697.8 337.5,698.8 336.8,700.4 335.1,702.1 334.9,704 332.6,706.9 333.3,708.5 333.1,710.8 334.5,713 335.6,714.2 336.8,717.4 337,721.2 339,722.6 341.2,723 343.1,722.7 344.9,722.9 346.6,725.8 348.4,725.7 349.9,728 351.9,728.5 355.4,729.8 357.7,730.9 360.3,731.3 363.1,731 364.2,732.9 368.1,731.8 370.4,731.9 372.9,732.4 375.1,731.9 377.7,733.1 379.5,732.9 382.5,732.2 384.8,731.7 386.8,729.5 389.5,728 390.6,727.6 392.2,725.9 394.1,724.7 395.7,722 398.2,723.9 400.3,723.4 402.5,725.8 404.5,726.4 406.9,729 409.2,729.6 412.5,731.9 414.4,733.8 417.2,735.1 420.2,734.2 422.8,733.6 424.6,731.1 428.1,730.1 429.9,730.8 431.8,730.3 434.2,731.2 436.1,732.9 438.8,735"/>
<path d="M313.8,690 313.2,687.6 311.8,686.3 309.5,684 309.5,683.1 308,681.2 304.9,679.9 302.7,678.4 300.8,675.9 299.2,678 295.8,678 293.1,680.5 291.8,681.6 289.5,681.5 288.1,682.5 286.3,682.6 284,683.6 282.3,685.5 278.7,684.7 277.5,686.8 276.4,688.9 276.7,690.1 274.5,692.2 272,694.1 270.6,693.9 267.7,695.6 265.2,695.5 262.8,695.6 261.3,695.8 259.3,696.6 257.7,698.3 255.9,699.1 253.4,700.7 252.1,701.9 250.9,703.9 249.6,701.7 248.4,699.2 247,697.3 245,696.2 241.8,697.5 239.2,698.5 237.2,700.2 236.1,697.8 234.2,698 232.3,696.7 229.2,694.4 228,697 227.1,697.8 225.6,699.3 223.9,700.7 221.5,701.9 220.8,703.6 217.8,703.4 215.4,701 211.8,699.7 209.6,699.1 207.5,697.5"/>
<path d="M352.5,749.5 380,734.25"/>
<path d="M420.5,600 421.9,601.4 424.4,601.5 426.6,602.5 428.1,603.5 429.3,600.9 430.2,598.5 432.3,598.1 434.6,596.3 436.5,596.6 438,597.5 441.6,599.3 444,600 446.7,600.6 447.4,599.5 449,596.9 451.2,594.9 452.6,593.2 454.7,590.1 457.4,590.5 459.8,593.2 461.9,590.9 465.1,588.2 466.5,589.3 468.8,588.9 471.8,589.7 473.4,591.4 476.1,594.3 475.5,596.3 475.1,599.5 476.9,601.5 479.1,603.3 481.8,605.7 481,606.3 480,608.8 478.1,611.7 476.4,614 474.5,614.6 473.7,617.9 472.6,619.4 470,622.5 468.7,623.4 468.1,625.7 468.5,628.4 467.3,629.7 471.7,631.9 474.1,630 475.6,627.3 478,625.6 480.6,626.1 482.9,627.1 483.2,630.4 484.5,631.1 484.6,634.3 485.7,635.6 487.5,635.7 489.8,637.1 492.9,636.1 494.7,634.8 496.9,633.8 498.8,633.8"/>
<path d="M498.8,633.8 499.4,635.8 500.4,638.5 501.6,642 499.9,644.2 499.5,646.2 498.4,647.9 497.1,649.4 497.9,653.1 496,655.1 494.5,658.1 493.7,660.7 492.5,662.7 491,665 489.1,665.4 486.8,667.1 487,669.7 485.8,671.9 485.3,674.1 484.4,676.3 484.4,679.6 484.4,681.7 484.2,684.1 484.6,685.9 484.6,686.7 483.4,689.7 481.3,692.7 478.7,693.7 477.9,693.5 475.4,694.2 473.3,695.5 470.9,697.9 469.1,698.5 467.1,699.9 464.6,701.5 463.1,703 465,705 463.9,708.2 464.8,710.3 462.5,711.8 460.3,714.6 457.4,714.8 455.1,715.6 454.5,716.1 453.6,718 453.6,720.7 451.7,722.8 450,722.7 447.4,723.5 445.2,724.9 444.1,724.9 442,725.5 440.9,727.3 440.6,729.7 439.4,732 438.2,734.4 440.4,738.1 440.6,739.4 439.9,742.5 436.2,742.8 434.3,745.1 433.8,748.2 433.8,751"/>
<path d="M498.8,633.8 501.2,632 502.7,629.7 503.7,626.8 504.6,626.2 505.4,623.2 506.3,620.5 507.9,620.1 509.9,620.3 512.4,620.2 514.9,620.6 516.7,622.3 519.3,622.2 522.4,624.9 523.1,627.3 526.8,627.9 528.5,627 528.8,624.6 529.9,622.8 529.2,621.5 527.9,618.4 525.5,616.2 528.2,615.2 530.3,614.3 531.9,611.8 535.7,611.7 537.8,609.6 539.6,611.1 541.4,611.3 543.4,612 546.7,613.5 547.4,612.3 550,613.5 552.4,612.2 554.4,612.4 556.7,611.5 558.5,610.1 561.3,610.9 562.3,612.8 564.8,613.5 565.4,613.7 568.6,613 571.1,612.8 572,612 574.7,611.3 576.8,610.1 578.1,610.7 579.8,611.7 582.8,613.3 581.2,615.7 581.7,618.1 578.9,621.2 575.5,622.7 574.9,625.2 573.7,626.3 572.1,628.9 569.4,631.2 567.5,633.1 570.5,634.5 572.2,635.6 575.3,635.6 577.1,634.6 579.7,635.2 583.2,634 584.8,632.3 587.3,631.8 590.2,631 591.6,629.9 594.2,629.7 596.2,628 597.8,627.1 600.1,627.4 602.4,625.7 604.5,626 607,626.5 607.9,627.4 610.4,628.8 612.1,629.7 614.7,631.2 616.2,629.3 616.9,626.7 617.2,624.9 617.2,622.6 616.9,620.7 616.2,618.8"/>
<path d="M616.2,618.8 618.2,618.4 619.8,619.1 623.4,619.2 624.3,620 627.1,620.7 630.8,621.6 632.5,622.6 635.2,624.2 637.4,624.3 638.1,626.4 641.9,626.3 644.5,624.7 646.2,625.5 646.8,627.3 648,629.7 650.5,631.2 651.5,633 651.8,635.7 654.4,639.3 655.1,641.5 656.1,643 656.7,645.7 657.4,646.4 657.3,649.1 657.1,650.8 658.8,654.5"/>
<path d="M677.5,633 674.6,634.2 672.6,635 670.9,637.4 670.3,639.2 668.8,641 669.5,643.6 671.3,645.8 669.7,647.8 667.2,649.5 665.5,651.5 662.9,652.6 658.2,654.3 658.1,656.2 658,658.6 660.9,660.8 658.3,661.3 656.2,661.3 654.2,663.1 652.2,664.5 651.2,666.4 649.5,668 648,670.4 646.5,672.8 645.1,675.3 641.5,675.6 639.1,675.9 637.1,677.9 634.5,678.6 632.4,679.9 630.5,680.3 627,680.4 625.2,681.8 622.5,683.1 620.1,685.3 617.2,685.7 615.1,686.4 612.1,684 609.8,683 607.3,683.9 604.8,684.6 602.4,686.2 601.1,686.5 599,687.7 597.9,690.5 596.1,693 594.3,692 591.7,691.2 592.4,689.1 594.2,687.1 589.5,686.6 587.8,687.5 585.4,688.3 584.4,690.7 584.3,692.8 583.6,695.1 584.2,698 584.3,700.4 584,703.8 584.5,706.5 581.6,706.1 580.1,706.9 577.8,706.9 574.9,707.1 572.9,706.9 570,707 567.8,706.8 565.2,708 564.3,705.1 564.8,702.9 564.6,699.7 566.1,696.8 562.9,694.6 560.8,692.7 559.5,691.2 557.1,691.3 555.2,690.1 554.9,692.6 554.7,694.9 554.1,697.2 555.2,700.2 556.3,702 554.6,704.8 552.8,706.6 550.1,708.1 548.3,710.3 546.5,712.1 544.7,714 542.9,712 541.1,711 539.2,708.5 538.1,711.9 538,714.6 535.7,716.3 534,718 531,719 528.8,720.1 527,722.2 526.8,723.6 524.2,723 522.1,720.8 520.8,719.7 520.3,717.4 518.9,713.2 517.7,717.4 515.6,718.6 513.6,719.7 510.8,720.6 508.5,721.5 507.2,722.7 505,723.5 502.4,724.4 500.1,725.5 497,724.4 495,724 493.8,725.7 491.8,727.4 490.2,729.1 487.7,729.6 484.7,730.5 481.7,730.8 479.1,731.8 476.8,731.3 473.5,732.3 471.5,732.9 469.6,733.7 467.3,735.5 465.9,736.8 463.3,739.3 462.1,740.3 459.8,742.7 458.3,739.7 456.7,737.3 454.7,740.4 453.4,742.7 455.3,744.5 457.3,746.1 455.5,747.5 452.4,748.9 449.8,746.5 447.4,744.7 445.9,747.4 444.5,749.1 443,750.1 440,751"/>
<path d="M628.8,582.5 627.3,585.5 627.6,586.7 626.5,589.2 624.3,591.8 623.8,594.3 623.1,595.9 621.7,599 620.9,600.9 621.8,603.9 620,607 618.5,608.4 616.8,610.8 616.6,614.4 617.3,615.6 616.2,618.8"/>
<path d="M786.25,587.5 797.5,590.5 800.5,606.25 797,630 793.75,653.75 786.25,667.5 783.75,687 776.25,676.25 765,672.5 758.75,660 753.75,641.25 762.5,620 772.5,598.75 786.25,587.5"/>
<path d="M771.6,444.4 774.8,446.3 773.9,444.7 774.9,444.3 771.3,445.1 773.9,446.3 771.6,444.4"/>
<path d="M770,452.9 771.5,450 771.3,450.6 770,452.9"/>
<path d="M773.6,445.8 772.2,443.3 772.7,443.6 772.6,446.3 773.6,445.8"/>
<path d="M768.7,446.3 769.3,448.4 766.9,448 767,445.6 767.5,446.8 767.7,448 768.7,446.3"/>
<path d="M775.7,439.3 773.3,440.6 774.7,440.8 775.7,439.3"/>
<path d="M774.1,446.1 772.9,449.3 773.9,449.7 772.1,447.5 774.5,447.5 774.1,446.1"/>
<path d="M770.7,442.4 772.2,442.8 770.4,439.6 770.7,442.4"/>
<path d="M773.5,447 772.6,445.3 774,446.4 773.5,447"/>
<path d="M774.1,447 772.9,447.9 771,446.5 774.1,446.4 774.1,447"/>
<path d="M770,450.1 768.7,448.4 770.7,449.9 771.8,449.3 772,449.6 770,450.1"/>
<path d="M766.4,439.9 768,440.4 768.8,440.5 767,441.3 766.9,439.9 766.7,440.7 766.4,439.9"/>
<path d="M771.2,443.4 769.2,446.1 769.1,446.1 771.2,443.4"/>
<path d="M768.5,452.3 765.7,451.5 769.2,450.1 766.4,452.3 767,450.6 768.5,452.3"/>
<path d="M771.3,441.3 771.5,443.9 770.7,440.9 774.2,443.6 771.3,441.3"/>
<path d="M768.8,438.9 765.8,437.9 767,439 767,437.8 765.1,439.3 768.1,439 768.8,438.9"/>
<path d="M777.4,445.1 774.8,441.8 776.4,444.3 777.2,443.9 776.7,441.3 777.5,443.2 777.4,445.1"/>
<path d="M767.1,450 768.6,450.7 766.8,450.1 769.2,449.5 768.7,448.7 767.1,450"/>
<path d="M776.2,442.8 777.3,443.7 778.1,445.4 776.9,445.4 776.4,445.6 776.2,442.8"/>
<path d="M774.1,443 773.9,444.6 773,445.7 774.6,442.7 774.6,446.6 774.5,443.6 774.1,443"/>
<path d="M774.4,446.1 777.8,445.1 775.7,445.5 777.9,446.5 777.5,443.9 774.4,446.1"/>
<path d="M767.8,443.2 770.4,443.2 769.3,440.6 768.2,440.4 767.6,439.6 770.7,440.6 767.8,443.2"/>
<path d="M768.9,442.1 768.4,444.7 770.1,444.3 769.4,444.3 768.7,441.3 769.6,444.6 768.9,442.1"/>
<path d="M774.4,438.1 774.6,438.7 774.5,439.4 774.4,438.1"/>
<path d="M772.3,445.6 772.2,445.6 771.5,446.3 773.8,446.2 770.7,446.3 773.2,448.4 772.3,445.6"/>
<path d="M773.3,441 774.2,439.7 773.3,441.8 773.5,440.8 773.3,441"/>
<path d="M776.5,441.1 774.2,441.3 774.1,442.4 776.4,441.4 776.4,440.3 776.5,441.1"/>
<path d="M774.4,445.7 774.9,445.3 772.5,445.3 771.7,444.9 774.4,445.7"/>
<path d="M772,438.7 771.4,441 771,439.5 772,441.2 768.9,441.7 771.1,439.2 772,438.7"/>
<path d="M772.8,447.3 770.1,446.2 771,447.1 772.8,447.3"/>
<path d="M772.9,446.8 774.7,445.9 772.8,445.5 772.9,446.8"/>
<path d="M774.8,450.4 777,451.9 777.2,450.9 774.8,450.4"/>
<path d="M765.4,449.9 764,448 762.3,447.2 764.4,449.5 765.4,449.9"/>
<path d="M766.6,440.1 765.3,438.8 765.8,439.6 764.9,440.8 766.6,442 766.6,440.1"/>
<path d="M774.8,444.7 776.2,446 774.1,445.2 776.1,445.4 777.3,444.7 776.1,445.9 774.8,444.7"/>
<path d="M777.9,444.1 778.1,442 777.9,442.2 777.5,445.4 778.9,443.5 776.3,442.9 777.9,444.1"/>
<path d="M766.6,449 764.3,447.8 766.2,446.3 764,448.9 766.6,449"/>
<path d="M765.7,440.4 765.8,441.5 766,439.3 765.7,440.4"/>
<path d="M763.9,447.5 761.5,445.1 764.6,446.2 762.3,447.3 761.3,444.8 761.1,446.4 763.9,447.5"/>
<path d="M769,461.1 766.6,460.4 767.6,461.5 766.7,462.8 770,462 769,461.1"/>
<path d="M760.3,458.8 761.2,457.7 759.5,460.3 760.1,458.2 760.3,458.8"/>
<path d="M770.4,461.5 772.2,462 769.7,461.7 771.5,461.8 770.4,461.5"/>
<path d="M758.2,460.3 758.9,460.3 757,459.4 757,459.7 759.7,459.8 758.2,460.3"/>
<path d="M769.8,463.2 768.5,460.9 770.6,460.8 769.3,462 769.8,463.2"/>
<path d="M765.5,462 764.9,461.4 765.5,463.5 765.5,462"/>
<path d="M764,463.4 765.8,462.7 766.3,463.9 765.4,465 764,463.4"/>
<path d="M764.9,459.5 761.8,457.7 764.5,458.3 764.5,460.5 764.9,459.5"/>
<path d="M760.2,461.5 760.5,461.7 760.2,463 763.4,461.1 762.7,462.5 761.6,463.7 760.2,461.5"/>
<path d="M760.2,465.5 761.2,462.5 760.2,463.1 760.2,465.5"/>
<path d="M759.2,459.8 762.2,462.2 759.6,460.3 760.4,461.9 759.2,459.8"/>
<path d="M770.5,459.6 771.7,462 770.9,460.2 772.9,460.6 772.8,460.5 770.5,459.6"/>
<path d="M765.2,464.8 764.9,461.4 768.3,462.7 765.2,464.8"/>
<path d="M762.6,458.2 760.4,458.7 763,457.5 762.6,458.2"/>
<path d="M770.4,463.1 771.3,463.3 769.5,462.4 769.8,462.1 770.4,463.1"/>
<path d="M770.5,461 769.1,462.8 770.6,463.2 770.5,461.6 770.5,461"/>
<path d="M762.6,466.5 762.3,464.7 764,464.9 762.6,466.5"/>
<path d="M772.3,459.6 770,459.9 770.7,461.3 772.3,459.6"/>
<path d="M771.5,459.8 771.8,462.5 771.8,461.4 771.5,459.8"/>
<path d="M757.5,460 759.8,458 757.8,459.3 759.8,458.8 757.3,459.9 756.9,461 757.5,460"/>
<path d="M771,461.8 769,460.6 771.1,461.3 771,461.8"/>
<path d="M764.7,462.7 764.8,459.8 764.5,460.8 764.7,462.7"/>
<path d="M760.1,474.6 760.2,473.4 761.8,474.7 761.6,472.7 760.8,473.2 760.1,474.6"/>
<path d="M761.7,481.8 762.3,480.9 762.7,483.2 761.7,481.8"/>
<path d="M759.9,479.9 758.4,477.8 761.3,478.6 758.7,480.6 760.6,478 759.9,479.9"/>
<path d="M761.5,479.1 762.7,479.7 761.8,480.2 763.4,479.1 762.6,480.2 761.5,479.1"/>
<path d="M762.3,473.8 762.1,473.6 762.6,473.3 762.3,473.8"/>
<path d="M762.4,471.9 761.3,472.8 761.4,469.9 761.1,472.4 761,472.1 760.6,473 762.4,471.9"/>
<path d="M762.1,471.7 760.7,471.6 762.1,472.4 760,470.2 762.1,471.7"/>
<path d="M766.7,475.9 765.3,472.7 765.1,475.4 764.8,473 764.3,475 765.8,473.6 766.7,475.9"/>
<path d="M761.6,470.9 761.6,472.6 761.8,472 760.8,471.1 761.7,471.5 761.6,470.9"/>
<path d="M763.7,473.4 761.2,470.9 763.9,471.2 763.7,473.4"/>
<path d="M762.5,476.4 762.8,473 763.7,474.4 762.5,476.4"/>
<path d="M766,473.3 766.4,471.4 766.3,473 765.6,471 766,473.3"/>
<path d="M766.8,473.3 766.3,470.8 763.5,473.7 765.6,471.9 763.9,471.9 766.8,473.3"/>
<path d="M760.7,482 761.6,481.9 760.7,479.7 761.6,479.5 761.4,480.6 760.9,481.6 760.7,482"/>
<path d="M624.2,225.4 622.6,225.6 622.7,223.6 621.8,224.3 624.2,225.4"/>
<path d="M636.4,226.1 634.3,224 634.8,225.5 636.4,226.1"/>
<path d="M638,223.4 637.1,222.4 636.8,223.1 638,223.2 638,223.4"/>
<path d="M626.5,224.2 626.4,224 625.8,225.1 626.2,226.6 626.5,224.2"/>
<path d="M633.5,226.5 633.7,226.3 633.5,226.4 633.2,225.1 632.5,224.3 633.5,226.5"/>
<path d="M628,225.7 629,226 628.7,227.1 628,225.7"/>
<path d="M642.3,224 642,222.4 641.6,223.2 640.3,224.5 641.6,223.2 642.3,224"/>
<path d="M627.9,226.2 626.8,224.2 627.1,224.1 628.4,225.2 626.8,225.7 627.9,226.2"/>
<path d="M641.6,224.9 639.9,224.4 641.8,222.4 640.2,223.7 641.2,222.7 641.1,224 641.6,224.9"/>
<path d="M637,224.1 638.8,223.6 637.5,221.9 638.1,223.2 639.6,222.2 638.5,223.1 637,224.1"/>
<path d="M702.5,178.1 702.9,179.2 702.1,179.8 702.8,178.1 700.7,179.7 702.5,178.1"/>
<path d="M700,177.5 700.3,177.4 702.6,176.9 701.8,175.7 703.5,175.9 700,177.5"/>
<path d="M705.4,184.6 702.9,184.5 705.6,186.2 705.3,187.8 704.1,185.7 703.8,185.2 705.4,184.6"/>
<path d="M702.7,177.8 701.9,176.8 699.9,176.1 702.7,177.8"/>
<path d="M708.9,177.1 708.8,177.8 710.9,175 708.9,177.1"/>
<path d="M704.2,179.6 705.9,179.3 706.5,178.9 706.8,180.1 704.2,179.6"/>
<path d="M703,180.5 703.1,180.7 701.1,179.9 701.4,179.8 701.9,180.5 701.4,180 703,180.5"/>
<path d="M703.5,178.3 701.4,176.5 702.2,176.6 700.8,178.3 703,177.3 701.9,178.3 703.5,178.3"/>
<path d="M710.9,185.4 710.7,185.2 712.5,184 712.6,187.2 710.8,185.1 710.9,185.4"/>
<path d="M708.8,176 709.4,176.3 706.8,174.1 707.4,174.5 708.8,176"/>
<path d="M707.5,185.7 709.3,185.4 709.4,187 706.6,187.6 709.3,188.2 708.5,188.1 707.5,185.7"/>
<path d="M706,187.4 706.6,186.2 705.8,189.6 705.1,187.4 706,187.4"/>
<path d="M708.8,176.8 707.3,175 705.8,176.4 708.8,176.8"/>
<path d="M709.4,184.6 709.7,183.5 710.3,183.9 709.4,184.6"/>
<path d="M389.8,730.7 388.9,731.6 389.2,732.2 388.6,732.6 388.7,733.7 389.8,730.7"/>
<path d="M404.6,728.3 401.8,728.7 404.1,728.8 402,729.5 402.5,730.1 402,729.1 404.6,728.3"/>
<path d="M385.5,730.6 386,732.7 385.9,733.2 385.4,732.5 385.5,730.6"/>
<path d="M395.4,729 396.6,728.3 393.9,728.7 393.7,728.2 394,729.3 396.5,729.9 395.4,729"/>
<path d="M389.3,728.9 388.3,725.9 389,726.3 390,729 389.3,728.9"/>
<path d="M397.1,723.7 398.4,724.4 396.1,723.4 396.2,725.4 397.1,723.7"/>
<path d="M402,727.2 399.8,727.4 400,727.1 402.5,726.6 400.3,727.4 401.6,726.5 402,727.2"/>
<path d="M401.6,730.6 402.6,730.3 402.8,730.1 402.3,730.2 402,729.5 401.6,730.6"/>
<path d="M391.8,729.7 393.5,728.8 392.2,730.4 392.6,731 391.6,731.6 392.7,728.5 391.8,729.7"/>
<path d="M387.9,727.9 387.7,728 386.9,727.2 387.9,727.9"/>
<path d="M391.5,728.6 393.6,727.7 391.6,728.9 393.9,730.1 392.7,727.1 392.1,729.7 391.5,728.6"/>
<path d="M399.8,730.7 399,733.5 400.6,731.6 401.3,733.7 402,731.7 400.9,732.1 399.8,730.7"/>
<path d="M394.9,730.1 395.5,729.5 394.4,727.4 396.7,730.1 395.1,727.3 394.9,730.1"/>
<path d="M389.8,734.1 390.3,733.9 390.7,731.8 391.9,732 389.8,734.1"/>
<path d="M454.6,741.9 454.2,740.9 454.8,742.7 454.6,741.9"/>
<path d="M453.9,749.3 455.8,748.8 452.7,746.1 453.4,747.1 454.9,748.8 454.4,748.1 453.9,749.3"/>
<path d="M453.9,741.9 452.1,743.5 453.3,744.3 452.9,742.9 453.9,741.9"/>
<path d="M449.6,744.5 447.7,743.9 449.5,743.1 449.6,744.5"/>
<path d="M459,740.5 458.5,740.8 460.3,741.4 458.4,742.2 458.9,740.7 459,740.5"/>
<path d="M450.9,746.6 451.1,743.5 452.7,743.8 452.7,744.7 452.9,744.9 450.9,746.6"/>
<path d="M453.9,746.7 455.6,744.9 453.3,746.9 452.5,747.6 453.9,746.7"/>
<path d="M450.3,745.3 450.8,745 451.6,746.2 451.8,746.9 450.3,745.3"/>
<path d="M454.8,749.8 454.5,750.2 454.3,749.9 453.1,750.2 454.8,749.8"/>
<path d="M458,751.2 457.6,751.4 457.6,749.8 454.8,749.7 456.7,751.6 458,751.2"/>
<path d="M427.3,729.1 428.2,728.8 427.6,728 427.3,729.1"/>
<path d="M431.4,735.3 431.8,733 431.9,733.9 430.4,733.9 429.9,733.5 431.4,735.3"/>
<path d="M424.4,728.8 424.3,728.9 425.4,728.8 424.4,728.8"/>
<path d="M426.7,733.3 426.1,732.8 426.6,734.1 425.7,733.1 426,734.3 426.7,733.3"/>
<path d="M431,736.4 433.4,734.5 431.6,733.9 431,736.4"/>
<path d="M440.1,728.9 437.5,728.2 439.5,730 437.6,728.9 437.5,728.4 440.1,728.9"/>
<path d="M435.9,730.6 436.1,731.9 437.8,731 437,732.7 436.2,729.9 435.9,730.6"/>
<path d="M433.9,733 434.5,735.6 434.4,734.2 433.9,735 433.9,733"/>
<path d="M501,725.1 500.3,725.4 502.4,725.1 503.3,722.9 501,725.1"/>
<path d="M493.4,718.5 494.7,719.5 496.1,718.8 494.3,719.4 494.8,717.9 493.4,718.5"/>
<path d="M500.4,723.4 501.2,722 500.7,721.7 500.4,723.4"/>
<path d="M495.5,724.8 494.7,725.1 494.8,726.7 496.6,724.5 496.4,726 495.5,724.8"/>
<path d="M510.3,724.1 508.5,722.6 509.5,723.8 510,724.3 509.2,724.7 510.3,724.9 510.3,724.1"/>
<path d="M507.5,720.5 507.4,721 506.5,721.2 507.5,720.5"/>
<path d="M499.5,720.5 500.4,721.9 499.2,721.7 499.5,720.5"/>
<path d="M508.8,719.6 506.6,718.3 507,718.3 506.4,719.6 508.8,719.6"/>
<path d="M502.4,720.1 500.6,721.2 503.1,721.2 502.4,720.1"/>
<path d="M493.4,723.9 492.6,723.2 492.6,723 492.6,723.6 493.4,723.9"/>
<path d="M535.1,709.5 536.4,708 536.8,708.3 535.1,709.5"/>
<path d="M543.2,703.4 545.3,705.5 543.2,705.3 544,703.6 543.2,703.4"/>
<path d="M540.7,709.7 542,711.9 540.5,711.9 540.7,709.7"/>
<path d="M542.2,712.2 543.6,709.8 542.1,709.3 542.6,711 542.6,709.4 542.2,712.2"/>
<path d="M542.3,705.9 544,708.6 541.9,708.5 541.7,707.2 542.3,705.9"/>
<path d="M538.5,707.4 537.4,705.4 538.4,706.3 538.5,707.4"/>
<path d="M548.2,705.9 547.7,704.9 549.4,706.6 548.2,705.9"/>
<path d="M548.2,708.9 547.1,710.8 546.2,708.9 548.6,709.1 547.4,709.7 548.2,708.9"/>
<path d="M584.1,695 584.1,694.7 582.2,696.4 583.7,693.8 584.1,695"/>
<path d="M584.9,697 584,698.7 584,698.5 584.9,697"/>
<path d="M583.7,692.7 584.6,692 583.5,693.3 583.7,692.7"/>
<path d="M585.5,694.4 585.7,692.5 583.7,694.2 585.5,694.4"/>
<path d="M582.4,691.9 583.5,692.6 583.5,692.9 582.4,691.9"/>
<path d="M583,695.7 584,694.5 583.6,692.9 582.8,694.3 583,695.7"/>
</g>
<g fill="none" stroke="#7A1FD2" stroke-width="2.2">
<circle cx="326.75" cy="232.0" r="4.9"/>
<circle cx="459.25" cy="159.5" r="4.9"/>
<circle cx="577.5" cy="176.25" r="4.9"/>
<circle cx="600.0" cy="196.75" r="4.9"/>
<circle cx="536.75" cy="236.25" r="4.9"/>
<circle cx="486.75" cy="245.0" r="4.9"/>
<circle cx="734.25" cy="95.0" r="4.9"/>
<circle cx="258.75" cy="303.25" r="4.9"/>
<circle cx="398.0" cy="356.0" r="4.9"/>
<circle cx="605.5" cy="270.5" r="4.9"/>
<circle cx="523.5" cy="334.5" r="4.9"/>
<circle cx="671.25" cy="399.5" r="4.9"/>
<circle cx="631.0" cy="410.0" r="4.9"/>
<circle cx="261.75" cy="462.0" r="4.9"/>
<circle cx="331.75" cy="496.75" r="4.9"/>
<circle cx="336.75" cy="585.0" r="4.9"/>
<circle cx="553.75" cy="458.75" r="4.9"/>
<circle cx="521.75" cy="530.0" r="4.9"/>
<circle cx="604.5" cy="508.75" r="4.9"/>
<circle cx="748.75" cy="411.75" r="4.9"/>
<circle cx="718.75" cy="446.25" r="4.9"/>
<circle cx="714.5" cy="572.5" r="4.9"/>
<circle cx="213.25" cy="627.0" r="4.9"/>
<circle cx="387.5" cy="695.0" r="4.9"/>
<circle cx="542.0" cy="678.75" r="4.9"/>
</g>
</g>
<rect x="207.3" y="49.9" width="685.5999999999999" height="700.1" fill="none" stroke="#000" stroke-width="2"/>
<g stroke="#000" stroke-width="1" shape-rendering="crispEdges">
<line x1="197" y1="64.5" x2="207.3" y2="64.5"/>
<line x1="197" y1="153" x2="207.3" y2="153"/>
<line x1="197" y1="242" x2="207.3" y2="242"/>
<line x1="197" y1="331" x2="207.3" y2="331"/>
<line x1="197" y1="420" x2="207.3" y2="420"/>
<line x1="197" y1="509" x2="207.3" y2="509"/>
<line x1="197" y1="598" x2="207.3" y2="598"/>
<line x1="197" y1="687" x2="207.3" y2="687"/>
<line x1="216" y1="750.0" x2="216" y2="760.7"/>
<line x1="313.3" y1="750.0" x2="313.3" y2="760.7"/>
<line x1="410.8" y1="750.0" x2="410.8" y2="760.7"/>
<line x1="508.3" y1="750.0" x2="508.3" y2="760.7"/>
<line x1="605.8" y1="750.0" x2="605.8" y2="760.7"/>
<line x1="703.3" y1="750.0" x2="703.3" y2="760.7"/>
<line x1="801.2" y1="750.0" x2="801.2" y2="760.7"/>
<line x1="892.4" y1="750.0" x2="892.4" y2="760.7"/>
</g>
<g fill="#F22424" font-size="21.5px" stroke="#fff" stroke-width="0.2">
<text x="146" y="72.3" textLength="46" lengthAdjust="spacingAndGlyphs">44°N</text>
<text x="146" y="160.8" textLength="46" lengthAdjust="spacingAndGlyphs">41°N</text>
<text x="146" y="249.8" textLength="46" lengthAdjust="spacingAndGlyphs">38°N</text>
<text x="146" y="338.8" textLength="46" lengthAdjust="spacingAndGlyphs">35°N</text>
<text x="146" y="427.8" textLength="46" lengthAdjust="spacingAndGlyphs">32°N</text>
<text x="146" y="516.8" textLength="46" lengthAdjust="spacingAndGlyphs">29°N</text>
<text x="146" y="605.8" textLength="46" lengthAdjust="spacingAndGlyphs">26°N</text>
<text x="146" y="694.8" textLength="46" lengthAdjust="spacingAndGlyphs">23°N</text>
<text x="197.7" y="783.3" textLength="57" lengthAdjust="spacingAndGlyphs">103°E</text>
<text x="295.0" y="783.3" textLength="57" lengthAdjust="spacingAndGlyphs">106°E</text>
<text x="392.5" y="783.3" textLength="57" lengthAdjust="spacingAndGlyphs">109°E</text>
<text x="490.0" y="783.3" textLength="57" lengthAdjust="spacingAndGlyphs">112°E</text>
<text x="587.5" y="783.3" textLength="57" lengthAdjust="spacingAndGlyphs">115°E</text>
<text x="685.0" y="783.3" textLength="57" lengthAdjust="spacingAndGlyphs">118°E</text>
<text x="782.9000000000001" y="783.3" textLength="57" lengthAdjust="spacingAndGlyphs">121°E</text>
<text x="874.1" y="783.3" textLength="57" lengthAdjust="spacingAndGlyphs">124°E</text>
</g>
<rect x="956.4" y="127.40" width="40.1" height="51.00" fill="#92D050" stroke="#000" stroke-width="1"/>
<rect x="956.4" y="178.40" width="40.1" height="49.51" fill="#70AD3A" stroke="#000" stroke-width="1"/>
<rect x="956.4" y="227.91" width="40.1" height="49.51" fill="#F5FA6E" stroke="#000" stroke-width="1"/>
<rect x="956.4" y="277.42" width="40.1" height="49.51" fill="#FFEB00" stroke="#000" stroke-width="1"/>
<rect x="956.4" y="326.93" width="40.1" height="49.51" fill="#FFB428" stroke="#000" stroke-width="1"/>
<rect x="956.4" y="376.44" width="40.1" height="49.51" fill="#FF8C00" stroke="#000" stroke-width="1"/>
<rect x="956.4" y="425.95" width="40.1" height="49.51" fill="#F8305A" stroke="#000" stroke-width="1"/>
<rect x="956.4" y="475.46" width="40.1" height="49.51" fill="#FF0000" stroke="#000" stroke-width="1"/>
<rect x="956.4" y="524.97" width="40.1" height="49.51" fill="#C71585" stroke="#000" stroke-width="1"/>
<rect x="956.4" y="574.48" width="40.1" height="49.51" fill="#B03060" stroke="#000" stroke-width="1"/>
<rect x="956.4" y="623.99" width="40.1" height="49.51" fill="#9932CC" stroke="#000" stroke-width="1"/>
<rect x="956.4" y="673.50" width="40.1" height="49.50" fill="#8A2BE2" stroke="#000" stroke-width="1"/>
<g fill="#000" font-size="24px" stroke="#fff" stroke-width="0.3">
<text x="1003.5" y="185.9" letter-spacing="1">10</text>
<text x="1003.5" y="235.4" letter-spacing="1">8</text>
<text x="1003.5" y="284.9" letter-spacing="1">6</text>
<text x="1003.5" y="334.4" letter-spacing="1">4</text>
<text x="1003.5" y="383.9" letter-spacing="1">2</text>
<text x="1003.5" y="433.4" letter-spacing="1">1</text>
<text x="1003.5" y="483.0" letter-spacing="1">0.8</text>
<text x="1003.5" y="532.5" letter-spacing="1">0.6</text>
<text x="1003.5" y="582.0" letter-spacing="1">0.4</text>
<text x="1003.5" y="631.5" letter-spacing="1">0.2</text>
<text x="1003.5" y="681.0" letter-spacing="1">0.1</text>
<text x="940.5" y="108" font-size="21.5px" textLength="52.5" lengthAdjust="spacingAndGlyphs">(km)</text>
</g>
<g fill="#000" font-size="25.8px" style="font-family:'Liberation Serif','Noto Serif CJK SC',serif">
<text x="226.76" y="33.6">年</text>
<text x="279.28" y="33.6">月</text>
<text x="333.52" y="30.9" font-size="23px">日</text>
<text x="480.45" y="33.6">模</text>
<text x="504.70" y="33.6">式</text>
<text x="595.15" y="33.6">预</text>
<text x="618.94" y="33.6">报</text>
<text x="642.72" y="33.6">产</text>
<text x="666.25" y="33.6">品</text>
<text x="729.68" y="33.6">月</text>
<text x="783.07" y="30.9" font-size="23px">日</text>
<text x="832.97" y="33.6">时</text>
</g>
<text x="170.9" y="34.3" font-size="25.5px" textLength="55.3" lengthAdjust="spacingAndGlyphs" stroke="#fff" stroke-width="0.3">2025</text>
<text x="252.5" y="34.3" font-size="25.5px" textLength="25.1" lengthAdjust="spacingAndGlyphs" stroke="#fff" stroke-width="0.3">10</text>
<text x="307.6" y="34.3" font-size="25.5px" textLength="26.3" lengthAdjust="spacingAndGlyphs" stroke="#fff" stroke-width="0.3">14</text>
<text x="356.7" y="34.3" font-size="25.5px" textLength="41.7" lengthAdjust="spacingAndGlyphs" stroke="#fff" stroke-width="0.3">WRF</text>
<text x="416.7" y="34.3" font-size="25.5px" textLength="66.3" lengthAdjust="spacingAndGlyphs" stroke="#fff" stroke-width="0.3">cmaq</text>
<text x="532.0" y="34.3" font-size="25.5px" textLength="64.6" lengthAdjust="spacingAndGlyphs" stroke="#fff" stroke-width="0.3">12km</text>
<text x="702.2" y="34.3" font-size="25.5px" textLength="25.4" lengthAdjust="spacingAndGlyphs" stroke="#fff" stroke-width="0.3">10</text>
<text x="757.2" y="34.3" font-size="25.5px" textLength="26.2" lengthAdjust="spacingAndGlyphs" stroke="#fff" stroke-width="0.3">14</text>
<text x="808.0" y="34.3" font-size="25.5px" textLength="24.6" lengthAdjust="spacingAndGlyphs" stroke="#fff" stroke-width="0.3">13</text>
<circle cx="695.2" cy="21.8" r="1.2"/><circle cx="695.2" cy="33.3" r="1.2"/>
<line x1="401.6" y1="38.4" x2="415.7" y2="10.8" stroke="#000" stroke-width="1.2"/>
<text x="870" y="34.3" font-size="25.5px" textLength="41" lengthAdjust="spacingAndGlyphs" fill="#F22424" stroke="#fff" stroke-width="0.3">VIS</text>
<g fill="#000" font-size="21.2px" style="font-family:'Liberation Serif','Noto Serif CJK SC',serif">
<text x="358.79" y="809.7">版</text>
<text x="378.22" y="809.7">权</text>
<text x="397.33" y="809.7">所</text>
<text x="417.73" y="809.7">有</text>
<text x="452.49" y="809.7">南</text>
<text x="471.82" y="809.7">京</text>
<text x="491.03" y="809.7">大</text>
<text x="510.68" y="809.7">学</text>
<text x="543.29" y="809.7">南</text>
<text x="563.32" y="809.7">京</text>
<text x="584.54" y="809.7">创</text>
<text x="603.37" y="809.7">蓝</text>
<text x="622.21" y="809.7">科</text>
<text x="642.81" y="809.7">技</text>
<text x="663.33" y="809.7">有</text>
<text x="682.57" y="809.7">限</text>
<text x="703.40" y="809.7">公</text>
<text x="723.84" y="809.7">司</text>
</g>
<circle cx="443.2" cy="803" r="1.1"/><circle cx="443.2" cy="809.8" r="1.1"/>
<line x1="534.4" y1="788.4" x2="534.4" y2="817.4" stroke="#000" stroke-width="1.2" shape-rendering="crispEdges"/>
</svg></body></html>
